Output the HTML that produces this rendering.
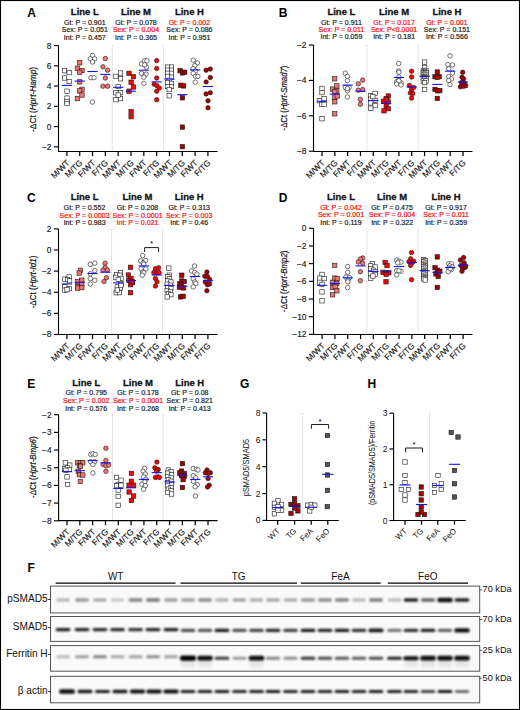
<!DOCTYPE html>
<html><head><meta charset="utf-8"><style>
html,body{margin:0;padding:0;background:#fff;}
#w{position:relative;width:520px;height:710px;overflow:hidden;background:#fff;}
svg{position:absolute;left:0;top:0;}
text{font-family:"Liberation Sans", sans-serif;}
</style></head><body><div id="w">
<svg width="520" height="710" viewBox="0 0 520 710">
<defs><filter id="bl" x="-30%" y="-100%" width="160%" height="300%"><feGaussianBlur stdDeviation="0.85"/></filter><filter id="bl2" x="-30%" y="-50%" width="160%" height="200%"><feGaussianBlur stdDeviation="1.5"/></filter></defs>
<text transform="translate(84.80,15.20) scale(0.97,1)" font-size="9.8" text-anchor="middle" font-weight="bold" fill="#111" stroke="#111" stroke-width="0.3">Line L</text>
<text transform="translate(84.80,24.90) scale(1.1,1)" font-size="6.4" text-anchor="middle" font-weight="normal" fill="#1a1a1a" stroke="#1a1a1a" stroke-width="0.18">Gt: P = 0.901</text>
<text transform="translate(84.80,32.20) scale(1.1,1)" font-size="6.4" text-anchor="middle" font-weight="normal" fill="#1a1a1a" stroke="#1a1a1a" stroke-width="0.18">Sex: P = 0.051</text>
<text transform="translate(84.80,39.50) scale(1.1,1)" font-size="6.4" text-anchor="middle" font-weight="normal" fill="#1a1a1a" stroke="#1a1a1a" stroke-width="0.18">Int: P = 0.457</text>
<text transform="translate(136.00,15.20) scale(0.97,1)" font-size="9.8" text-anchor="middle" font-weight="bold" fill="#111" stroke="#111" stroke-width="0.3">Line M</text>
<text transform="translate(136.00,24.90) scale(1.1,1)" font-size="6.4" text-anchor="middle" font-weight="normal" fill="#1a1a1a" stroke="#1a1a1a" stroke-width="0.18">Gt: P = 0.078</text>
<text transform="translate(136.00,32.20) scale(1.1,1)" font-size="6.4" text-anchor="middle" font-weight="normal" fill="#ff0a0a" stroke="#ff0a0a" stroke-width="0.18">Sex: P = 0.004</text>
<text transform="translate(136.00,39.50) scale(1.1,1)" font-size="6.4" text-anchor="middle" font-weight="normal" fill="#1a1a1a" stroke="#1a1a1a" stroke-width="0.18">Int: P = 0.365</text>
<text transform="translate(189.40,15.20) scale(0.97,1)" font-size="9.8" text-anchor="middle" font-weight="bold" fill="#111" stroke="#111" stroke-width="0.3">Line H</text>
<text transform="translate(189.40,24.90) scale(1.1,1)" font-size="6.4" text-anchor="middle" font-weight="normal" fill="#ff0a0a" stroke="#ff0a0a" stroke-width="0.18">Gt: P = 0.002</text>
<text transform="translate(189.40,32.20) scale(1.1,1)" font-size="6.4" text-anchor="middle" font-weight="normal" fill="#1a1a1a" stroke="#1a1a1a" stroke-width="0.18">Sex: P = 0.086</text>
<text transform="translate(189.40,39.50) scale(1.1,1)" font-size="6.4" text-anchor="middle" font-weight="normal" fill="#1a1a1a" stroke="#1a1a1a" stroke-width="0.18">Int: P = 0.951</text>
<text x="27.30" y="16.60" font-size="12" text-anchor="start" font-weight="bold" fill="#000" >A</text>
<line x1="112.30" y1="45.00" x2="112.30" y2="151.50" stroke="#d0d0d0" stroke-width="0.8" stroke-dasharray="2,0.7"/>
<line x1="163.40" y1="45.00" x2="163.40" y2="151.50" stroke="#d0d0d0" stroke-width="0.8" stroke-dasharray="2,0.7"/>
<line x1="58.50" y1="45.50" x2="58.50" y2="152.00" stroke="#000" stroke-width="1.1" />
<line x1="53.90" y1="45.56" x2="58.50" y2="45.56" stroke="#000" stroke-width="1.15" />
<text x="51.50" y="48.56" font-size="8.4" text-anchor="end" font-weight="normal" fill="#111" stroke="#111" stroke-width="0.12">8</text>
<line x1="53.90" y1="65.82" x2="58.50" y2="65.82" stroke="#000" stroke-width="1.15" />
<text x="51.50" y="68.82" font-size="8.4" text-anchor="end" font-weight="normal" fill="#111" stroke="#111" stroke-width="0.12">6</text>
<line x1="53.90" y1="86.08" x2="58.50" y2="86.08" stroke="#000" stroke-width="1.15" />
<text x="51.50" y="89.08" font-size="8.4" text-anchor="end" font-weight="normal" fill="#111" stroke="#111" stroke-width="0.12">4</text>
<line x1="53.90" y1="106.34" x2="58.50" y2="106.34" stroke="#000" stroke-width="1.15" />
<text x="51.50" y="109.34" font-size="8.4" text-anchor="end" font-weight="normal" fill="#111" stroke="#111" stroke-width="0.12">2</text>
<line x1="53.90" y1="126.60" x2="58.50" y2="126.60" stroke="#000" stroke-width="1.15" />
<text x="51.50" y="129.60" font-size="8.4" text-anchor="end" font-weight="normal" fill="#111" stroke="#111" stroke-width="0.12">0</text>
<line x1="53.90" y1="146.86" x2="58.50" y2="146.86" stroke="#000" stroke-width="1.15" />
<text x="51.50" y="149.86" font-size="8.4" text-anchor="end" font-weight="normal" fill="#111" stroke="#111" stroke-width="0.12">−2</text>
<line x1="57.95" y1="151.50" x2="217.60" y2="151.50" stroke="#000" stroke-width="1.1" />
<line x1="66.90" y1="151.50" x2="66.90" y2="156.10" stroke="#000" stroke-width="1.25" />
<text transform="translate(70.20,163.30) rotate(-45)" font-size="8.4" text-anchor="end" fill="#111" stroke="#111" stroke-width="0.15">M/WT</text>
<line x1="79.72" y1="151.50" x2="79.72" y2="156.10" stroke="#000" stroke-width="1.25" />
<text transform="translate(83.02,163.30) rotate(-45)" font-size="8.4" text-anchor="end" fill="#111" stroke="#111" stroke-width="0.15">M/TG</text>
<line x1="92.54" y1="151.50" x2="92.54" y2="156.10" stroke="#000" stroke-width="1.25" />
<text transform="translate(95.84,163.30) rotate(-45)" font-size="8.4" text-anchor="end" fill="#111" stroke="#111" stroke-width="0.15">F/WT</text>
<line x1="105.36" y1="151.50" x2="105.36" y2="156.10" stroke="#000" stroke-width="1.25" />
<text transform="translate(108.66,163.30) rotate(-45)" font-size="8.4" text-anchor="end" fill="#111" stroke="#111" stroke-width="0.15">F/TG</text>
<line x1="118.18" y1="151.50" x2="118.18" y2="156.10" stroke="#000" stroke-width="1.25" />
<text transform="translate(121.48,163.30) rotate(-45)" font-size="8.4" text-anchor="end" fill="#111" stroke="#111" stroke-width="0.15">M/WT</text>
<line x1="131.00" y1="151.50" x2="131.00" y2="156.10" stroke="#000" stroke-width="1.25" />
<text transform="translate(134.30,163.30) rotate(-45)" font-size="8.4" text-anchor="end" fill="#111" stroke="#111" stroke-width="0.15">M/TG</text>
<line x1="143.82" y1="151.50" x2="143.82" y2="156.10" stroke="#000" stroke-width="1.25" />
<text transform="translate(147.12,163.30) rotate(-45)" font-size="8.4" text-anchor="end" fill="#111" stroke="#111" stroke-width="0.15">F/WT</text>
<line x1="156.64" y1="151.50" x2="156.64" y2="156.10" stroke="#000" stroke-width="1.25" />
<text transform="translate(159.94,163.30) rotate(-45)" font-size="8.4" text-anchor="end" fill="#111" stroke="#111" stroke-width="0.15">F/TG</text>
<line x1="169.46" y1="151.50" x2="169.46" y2="156.10" stroke="#000" stroke-width="1.25" />
<text transform="translate(172.76,163.30) rotate(-45)" font-size="8.4" text-anchor="end" fill="#111" stroke="#111" stroke-width="0.15">M/WT</text>
<line x1="182.28" y1="151.50" x2="182.28" y2="156.10" stroke="#000" stroke-width="1.25" />
<text transform="translate(185.58,163.30) rotate(-45)" font-size="8.4" text-anchor="end" fill="#111" stroke="#111" stroke-width="0.15">M/TG</text>
<line x1="195.10" y1="151.50" x2="195.10" y2="156.10" stroke="#000" stroke-width="1.25" />
<text transform="translate(198.40,163.30) rotate(-45)" font-size="8.4" text-anchor="end" fill="#111" stroke="#111" stroke-width="0.15">F/WT</text>
<line x1="207.92" y1="151.50" x2="207.92" y2="156.10" stroke="#000" stroke-width="1.25" />
<text transform="translate(211.22,163.30) rotate(-45)" font-size="8.4" text-anchor="end" fill="#111" stroke="#111" stroke-width="0.15">F/TG</text>
<text transform="translate(35.80,99.40) rotate(-90)" font-size="8.8" text-anchor="middle" fill="#111" stroke="#111" stroke-width="0.2" textLength="65.0" lengthAdjust="spacingAndGlyphs">-ΔCt (<tspan font-style="italic">Hprt-Hamp</tspan>)</text>
<rect x="62.30" y="68.50" width="4.4" height="4.4" fill="#fff" stroke="#1a1a1a" stroke-width="0.6"/>
<rect x="67.00" y="70.40" width="4.4" height="4.4" fill="#fff" stroke="#1a1a1a" stroke-width="0.6"/>
<rect x="62.30" y="75.80" width="4.4" height="4.4" fill="#fff" stroke="#1a1a1a" stroke-width="0.6"/>
<rect x="67.00" y="79.30" width="4.4" height="4.4" fill="#fff" stroke="#1a1a1a" stroke-width="0.6"/>
<rect x="64.80" y="89.00" width="4.4" height="4.4" fill="#fff" stroke="#1a1a1a" stroke-width="0.6"/>
<rect x="64.80" y="95.90" width="4.4" height="4.4" fill="#fff" stroke="#1a1a1a" stroke-width="0.6"/>
<rect x="64.80" y="99.50" width="4.4" height="4.4" fill="#fff" stroke="#1a1a1a" stroke-width="0.6"/>
<rect x="64.80" y="101.40" width="4.4" height="4.4" fill="#fff" stroke="#1a1a1a" stroke-width="0.6"/>
<line x1="61.80" y1="85.40" x2="72.00" y2="85.40" stroke="#1010ff" stroke-width="1.1" />
<rect x="77.50" y="60.60" width="4.4" height="4.4" fill="#f47272" stroke="#1a1a1a" stroke-width="0.6"/>
<rect x="75.20" y="66.00" width="4.4" height="4.4" fill="#f47272" stroke="#1a1a1a" stroke-width="0.6"/>
<rect x="79.80" y="68.30" width="4.4" height="4.4" fill="#f47272" stroke="#1a1a1a" stroke-width="0.6"/>
<rect x="77.50" y="70.00" width="4.4" height="4.4" fill="#f47272" stroke="#1a1a1a" stroke-width="0.6"/>
<rect x="77.50" y="79.70" width="4.4" height="4.4" fill="#f47272" stroke="#1a1a1a" stroke-width="0.6"/>
<rect x="79.80" y="87.10" width="4.4" height="4.4" fill="#f47272" stroke="#1a1a1a" stroke-width="0.6"/>
<rect x="77.50" y="88.70" width="4.4" height="4.4" fill="#f47272" stroke="#1a1a1a" stroke-width="0.6"/>
<rect x="79.80" y="92.80" width="4.4" height="4.4" fill="#f47272" stroke="#1a1a1a" stroke-width="0.6"/>
<rect x="75.20" y="96.40" width="4.4" height="4.4" fill="#f47272" stroke="#1a1a1a" stroke-width="0.6"/>
<line x1="74.62" y1="81.10" x2="84.82" y2="81.10" stroke="#1010ff" stroke-width="1.1" />
<circle cx="92.50" cy="55.50" r="2.25" fill="#fff" stroke="#1a1a1a" stroke-width="0.6"/>
<circle cx="90.30" cy="58.80" r="2.25" fill="#fff" stroke="#1a1a1a" stroke-width="0.6"/>
<circle cx="94.70" cy="58.80" r="2.25" fill="#fff" stroke="#1a1a1a" stroke-width="0.6"/>
<circle cx="92.50" cy="62.00" r="2.25" fill="#fff" stroke="#1a1a1a" stroke-width="0.6"/>
<circle cx="90.90" cy="77.70" r="2.25" fill="#fff" stroke="#1a1a1a" stroke-width="0.6"/>
<circle cx="94.00" cy="77.70" r="2.25" fill="#fff" stroke="#1a1a1a" stroke-width="0.6"/>
<circle cx="92.40" cy="102.00" r="2.25" fill="#fff" stroke="#1a1a1a" stroke-width="0.6"/>
<line x1="87.44" y1="71.50" x2="97.64" y2="71.50" stroke="#1010ff" stroke-width="1.1" />
<circle cx="105.30" cy="58.60" r="2.25" fill="#f47272" stroke="#1a1a1a" stroke-width="0.6"/>
<circle cx="103.00" cy="66.80" r="2.25" fill="#f47272" stroke="#1a1a1a" stroke-width="0.6"/>
<circle cx="107.60" cy="70.20" r="2.25" fill="#f47272" stroke="#1a1a1a" stroke-width="0.6"/>
<circle cx="105.30" cy="78.00" r="2.25" fill="#f47272" stroke="#1a1a1a" stroke-width="0.6"/>
<circle cx="103.00" cy="86.20" r="2.25" fill="#f47272" stroke="#1a1a1a" stroke-width="0.6"/>
<circle cx="107.60" cy="86.20" r="2.25" fill="#f47272" stroke="#1a1a1a" stroke-width="0.6"/>
<line x1="100.26" y1="74.40" x2="110.46" y2="74.40" stroke="#1010ff" stroke-width="1.1" />
<rect x="118.30" y="70.80" width="4.4" height="4.4" fill="#fff" stroke="#1a1a1a" stroke-width="0.6"/>
<rect x="113.70" y="74.20" width="4.4" height="4.4" fill="#fff" stroke="#1a1a1a" stroke-width="0.6"/>
<rect x="118.30" y="76.60" width="4.4" height="4.4" fill="#fff" stroke="#1a1a1a" stroke-width="0.6"/>
<rect x="116.00" y="84.30" width="4.4" height="4.4" fill="#fff" stroke="#1a1a1a" stroke-width="0.6"/>
<rect x="113.70" y="90.50" width="4.4" height="4.4" fill="#fff" stroke="#1a1a1a" stroke-width="0.6"/>
<rect x="118.30" y="90.50" width="4.4" height="4.4" fill="#fff" stroke="#1a1a1a" stroke-width="0.6"/>
<rect x="113.70" y="97.50" width="4.4" height="4.4" fill="#fff" stroke="#1a1a1a" stroke-width="0.6"/>
<rect x="118.30" y="96.40" width="4.4" height="4.4" fill="#fff" stroke="#1a1a1a" stroke-width="0.6"/>
<rect x="116.00" y="92.80" width="4.4" height="4.4" fill="#fff" stroke="#1a1a1a" stroke-width="0.6"/>
<line x1="113.08" y1="87.30" x2="123.28" y2="87.30" stroke="#1010ff" stroke-width="1.1" />
<rect x="126.80" y="71.10" width="4.4" height="4.4" fill="#ff0000" stroke="#1a1a1a" stroke-width="0.6"/>
<rect x="131.20" y="74.50" width="4.4" height="4.4" fill="#ff0000" stroke="#1a1a1a" stroke-width="0.6"/>
<rect x="128.90" y="80.00" width="4.4" height="4.4" fill="#ff0000" stroke="#1a1a1a" stroke-width="0.6"/>
<rect x="131.20" y="84.80" width="4.4" height="4.4" fill="#ff0000" stroke="#1a1a1a" stroke-width="0.6"/>
<rect x="126.80" y="89.00" width="4.4" height="4.4" fill="#ff0000" stroke="#1a1a1a" stroke-width="0.6"/>
<rect x="128.90" y="109.40" width="4.4" height="4.4" fill="#ff0000" stroke="#1a1a1a" stroke-width="0.6"/>
<rect x="128.90" y="114.50" width="4.4" height="4.4" fill="#ff0000" stroke="#1a1a1a" stroke-width="0.6"/>
<line x1="125.90" y1="91.20" x2="136.10" y2="91.20" stroke="#1010ff" stroke-width="1.1" />
<circle cx="141.50" cy="64.00" r="2.25" fill="#fff" stroke="#1a1a1a" stroke-width="0.6"/>
<circle cx="144.60" cy="60.90" r="2.25" fill="#fff" stroke="#1a1a1a" stroke-width="0.6"/>
<circle cx="146.90" cy="60.90" r="2.25" fill="#fff" stroke="#1a1a1a" stroke-width="0.6"/>
<circle cx="146.40" cy="67.10" r="2.25" fill="#fff" stroke="#1a1a1a" stroke-width="0.6"/>
<circle cx="141.50" cy="73.30" r="2.25" fill="#fff" stroke="#1a1a1a" stroke-width="0.6"/>
<circle cx="146.10" cy="74.10" r="2.25" fill="#fff" stroke="#1a1a1a" stroke-width="0.6"/>
<circle cx="143.80" cy="77.20" r="2.25" fill="#fff" stroke="#1a1a1a" stroke-width="0.6"/>
<circle cx="143.80" cy="83.40" r="2.25" fill="#fff" stroke="#1a1a1a" stroke-width="0.6"/>
<circle cx="144.60" cy="64.80" r="2.25" fill="#fff" stroke="#1a1a1a" stroke-width="0.6"/>
<line x1="138.72" y1="70.20" x2="148.92" y2="70.20" stroke="#1010ff" stroke-width="1.1" />
<circle cx="156.70" cy="60.60" r="2.25" fill="#ff0000" stroke="#1a1a1a" stroke-width="0.6"/>
<circle cx="156.70" cy="68.40" r="2.25" fill="#ff0000" stroke="#1a1a1a" stroke-width="0.6"/>
<circle cx="156.70" cy="78.00" r="2.25" fill="#ff0000" stroke="#1a1a1a" stroke-width="0.6"/>
<circle cx="154.20" cy="84.20" r="2.25" fill="#ff0000" stroke="#1a1a1a" stroke-width="0.6"/>
<circle cx="157.00" cy="85.70" r="2.25" fill="#ff0000" stroke="#1a1a1a" stroke-width="0.6"/>
<circle cx="159.30" cy="88.00" r="2.25" fill="#ff0000" stroke="#1a1a1a" stroke-width="0.6"/>
<circle cx="156.70" cy="91.20" r="2.25" fill="#ff0000" stroke="#1a1a1a" stroke-width="0.6"/>
<circle cx="156.70" cy="99.70" r="2.25" fill="#ff0000" stroke="#1a1a1a" stroke-width="0.6"/>
<line x1="151.54" y1="81.90" x2="161.74" y2="81.90" stroke="#1010ff" stroke-width="1.1" />
<rect x="165.50" y="64.90" width="4.4" height="4.4" fill="#fff" stroke="#1a1a1a" stroke-width="0.6"/>
<rect x="169.30" y="64.90" width="4.4" height="4.4" fill="#fff" stroke="#1a1a1a" stroke-width="0.6"/>
<rect x="165.50" y="68.00" width="4.4" height="4.4" fill="#fff" stroke="#1a1a1a" stroke-width="0.6"/>
<rect x="169.30" y="68.00" width="4.4" height="4.4" fill="#fff" stroke="#1a1a1a" stroke-width="0.6"/>
<rect x="165.50" y="71.10" width="4.4" height="4.4" fill="#fff" stroke="#1a1a1a" stroke-width="0.6"/>
<rect x="169.30" y="71.10" width="4.4" height="4.4" fill="#fff" stroke="#1a1a1a" stroke-width="0.6"/>
<rect x="165.50" y="74.20" width="4.4" height="4.4" fill="#fff" stroke="#1a1a1a" stroke-width="0.6"/>
<rect x="169.30" y="75.00" width="4.4" height="4.4" fill="#fff" stroke="#1a1a1a" stroke-width="0.6"/>
<rect x="167.00" y="78.10" width="4.4" height="4.4" fill="#fff" stroke="#1a1a1a" stroke-width="0.6"/>
<rect x="165.50" y="80.40" width="4.4" height="4.4" fill="#fff" stroke="#1a1a1a" stroke-width="0.6"/>
<rect x="169.30" y="81.20" width="4.4" height="4.4" fill="#fff" stroke="#1a1a1a" stroke-width="0.6"/>
<rect x="165.50" y="84.30" width="4.4" height="4.4" fill="#fff" stroke="#1a1a1a" stroke-width="0.6"/>
<rect x="169.30" y="84.30" width="4.4" height="4.4" fill="#fff" stroke="#1a1a1a" stroke-width="0.6"/>
<rect x="167.00" y="87.40" width="4.4" height="4.4" fill="#fff" stroke="#1a1a1a" stroke-width="0.6"/>
<rect x="167.00" y="93.60" width="4.4" height="4.4" fill="#fff" stroke="#1a1a1a" stroke-width="0.6"/>
<line x1="164.36" y1="79.10" x2="174.56" y2="79.10" stroke="#1010ff" stroke-width="1.1" />
<rect x="177.90" y="68.50" width="4.4" height="4.4" fill="#a60000" stroke="#1a1a1a" stroke-width="0.6"/>
<rect x="180.20" y="70.70" width="4.4" height="4.4" fill="#a60000" stroke="#1a1a1a" stroke-width="0.6"/>
<rect x="182.50" y="70.00" width="4.4" height="4.4" fill="#a60000" stroke="#1a1a1a" stroke-width="0.6"/>
<rect x="178.60" y="83.10" width="4.4" height="4.4" fill="#a60000" stroke="#1a1a1a" stroke-width="0.6"/>
<rect x="181.40" y="83.70" width="4.4" height="4.4" fill="#a60000" stroke="#1a1a1a" stroke-width="0.6"/>
<rect x="180.20" y="95.60" width="4.4" height="4.4" fill="#a60000" stroke="#1a1a1a" stroke-width="0.6"/>
<rect x="180.20" y="124.90" width="4.4" height="4.4" fill="#a60000" stroke="#1a1a1a" stroke-width="0.6"/>
<rect x="180.20" y="144.50" width="4.4" height="4.4" fill="#a60000" stroke="#1a1a1a" stroke-width="0.6"/>
<line x1="177.18" y1="94.70" x2="187.38" y2="94.70" stroke="#1010ff" stroke-width="1.1" />
<circle cx="193.20" cy="60.20" r="2.25" fill="#fff" stroke="#1a1a1a" stroke-width="0.6"/>
<circle cx="197.40" cy="62.90" r="2.25" fill="#fff" stroke="#1a1a1a" stroke-width="0.6"/>
<circle cx="194.80" cy="65.60" r="2.25" fill="#fff" stroke="#1a1a1a" stroke-width="0.6"/>
<circle cx="193.20" cy="68.70" r="2.25" fill="#fff" stroke="#1a1a1a" stroke-width="0.6"/>
<circle cx="195.60" cy="71.00" r="2.25" fill="#fff" stroke="#1a1a1a" stroke-width="0.6"/>
<circle cx="193.20" cy="73.30" r="2.25" fill="#fff" stroke="#1a1a1a" stroke-width="0.6"/>
<circle cx="195.60" cy="76.40" r="2.25" fill="#fff" stroke="#1a1a1a" stroke-width="0.6"/>
<circle cx="197.90" cy="76.40" r="2.25" fill="#fff" stroke="#1a1a1a" stroke-width="0.6"/>
<circle cx="195.20" cy="82.20" r="2.25" fill="#fff" stroke="#1a1a1a" stroke-width="0.6"/>
<line x1="190.00" y1="69.90" x2="200.20" y2="69.90" stroke="#1010ff" stroke-width="1.1" />
<circle cx="206.10" cy="70.20" r="2.25" fill="#a60000" stroke="#1a1a1a" stroke-width="0.6"/>
<circle cx="210.30" cy="69.10" r="2.25" fill="#a60000" stroke="#1a1a1a" stroke-width="0.6"/>
<circle cx="210.30" cy="77.50" r="2.25" fill="#a60000" stroke="#1a1a1a" stroke-width="0.6"/>
<circle cx="206.10" cy="81.90" r="2.25" fill="#a60000" stroke="#1a1a1a" stroke-width="0.6"/>
<circle cx="206.10" cy="94.00" r="2.25" fill="#a60000" stroke="#1a1a1a" stroke-width="0.6"/>
<circle cx="210.30" cy="92.70" r="2.25" fill="#a60000" stroke="#1a1a1a" stroke-width="0.6"/>
<circle cx="208.00" cy="100.80" r="2.25" fill="#a60000" stroke="#1a1a1a" stroke-width="0.6"/>
<circle cx="208.00" cy="107.80" r="2.25" fill="#a60000" stroke="#1a1a1a" stroke-width="0.6"/>
<line x1="202.82" y1="86.50" x2="213.02" y2="86.50" stroke="#1010ff" stroke-width="1.1" />
<text transform="translate(341.40,15.00) scale(0.97,1)" font-size="9.8" text-anchor="middle" font-weight="bold" fill="#111" stroke="#111" stroke-width="0.3">Line L</text>
<text transform="translate(341.40,24.70) scale(1.1,1)" font-size="6.4" text-anchor="middle" font-weight="normal" fill="#1a1a1a" stroke="#1a1a1a" stroke-width="0.18">Gt: P = 0.911</text>
<text transform="translate(341.40,32.00) scale(1.1,1)" font-size="6.4" text-anchor="middle" font-weight="normal" fill="#ff0a0a" stroke="#ff0a0a" stroke-width="0.18">Sex: P = 0.011</text>
<text transform="translate(341.40,39.30) scale(1.1,1)" font-size="6.4" text-anchor="middle" font-weight="normal" fill="#1a1a1a" stroke="#1a1a1a" stroke-width="0.18">Int: P = 0.059</text>
<text transform="translate(394.10,15.00) scale(0.97,1)" font-size="9.8" text-anchor="middle" font-weight="bold" fill="#111" stroke="#111" stroke-width="0.3">Line M</text>
<text transform="translate(394.10,24.70) scale(1.1,1)" font-size="6.4" text-anchor="middle" font-weight="normal" fill="#ff0a0a" stroke="#ff0a0a" stroke-width="0.18">Gt: P = 0.017</text>
<text transform="translate(394.10,32.00) scale(1.1,1)" font-size="6.4" text-anchor="middle" font-weight="normal" fill="#ff0a0a" stroke="#ff0a0a" stroke-width="0.18">Sex: P&lt;0.0001</text>
<text transform="translate(394.10,39.30) scale(1.1,1)" font-size="6.4" text-anchor="middle" font-weight="normal" fill="#1a1a1a" stroke="#1a1a1a" stroke-width="0.18">Int: P = 0.181</text>
<text transform="translate(446.90,15.00) scale(0.97,1)" font-size="9.8" text-anchor="middle" font-weight="bold" fill="#111" stroke="#111" stroke-width="0.3">Line H</text>
<text transform="translate(446.90,24.70) scale(1.1,1)" font-size="6.4" text-anchor="middle" font-weight="normal" fill="#ff0a0a" stroke="#ff0a0a" stroke-width="0.18">Gt: P = 0.001</text>
<text transform="translate(446.90,32.00) scale(1.1,1)" font-size="6.4" text-anchor="middle" font-weight="normal" fill="#1a1a1a" stroke="#1a1a1a" stroke-width="0.18">Sex: P = 0.151</text>
<text transform="translate(446.90,39.30) scale(1.1,1)" font-size="6.4" text-anchor="middle" font-weight="normal" fill="#1a1a1a" stroke="#1a1a1a" stroke-width="0.18">Int: P = 0.566</text>
<text x="278.70" y="16.60" font-size="12" text-anchor="start" font-weight="bold" fill="#000" >B</text>
<line x1="366.90" y1="45.00" x2="366.90" y2="151.50" stroke="#d0d0d0" stroke-width="0.8" stroke-dasharray="2,0.7"/>
<line x1="418.20" y1="45.00" x2="418.20" y2="151.50" stroke="#d0d0d0" stroke-width="0.8" stroke-dasharray="2,0.7"/>
<line x1="313.50" y1="45.00" x2="313.50" y2="152.00" stroke="#000" stroke-width="1.1" />
<line x1="308.90" y1="45.00" x2="313.50" y2="45.00" stroke="#000" stroke-width="1.15" />
<text x="306.50" y="48.00" font-size="8.4" text-anchor="end" font-weight="normal" fill="#111" stroke="#111" stroke-width="0.12">−2</text>
<line x1="308.90" y1="80.40" x2="313.50" y2="80.40" stroke="#000" stroke-width="1.15" />
<text x="306.50" y="83.40" font-size="8.4" text-anchor="end" font-weight="normal" fill="#111" stroke="#111" stroke-width="0.12">−4</text>
<line x1="308.90" y1="115.80" x2="313.50" y2="115.80" stroke="#000" stroke-width="1.15" />
<text x="306.50" y="118.80" font-size="8.4" text-anchor="end" font-weight="normal" fill="#111" stroke="#111" stroke-width="0.12">−6</text>
<line x1="308.90" y1="151.20" x2="313.50" y2="151.20" stroke="#000" stroke-width="1.15" />
<text x="306.50" y="154.20" font-size="8.4" text-anchor="end" font-weight="normal" fill="#111" stroke="#111" stroke-width="0.12">−8</text>
<line x1="312.95" y1="151.50" x2="472.50" y2="151.50" stroke="#000" stroke-width="1.1" />
<line x1="322.00" y1="151.50" x2="322.00" y2="156.10" stroke="#000" stroke-width="1.25" />
<text transform="translate(325.30,163.30) rotate(-45)" font-size="8.4" text-anchor="end" fill="#111" stroke="#111" stroke-width="0.15">M/WT</text>
<line x1="334.82" y1="151.50" x2="334.82" y2="156.10" stroke="#000" stroke-width="1.25" />
<text transform="translate(338.12,163.30) rotate(-45)" font-size="8.4" text-anchor="end" fill="#111" stroke="#111" stroke-width="0.15">M/TG</text>
<line x1="347.64" y1="151.50" x2="347.64" y2="156.10" stroke="#000" stroke-width="1.25" />
<text transform="translate(350.94,163.30) rotate(-45)" font-size="8.4" text-anchor="end" fill="#111" stroke="#111" stroke-width="0.15">F/WT</text>
<line x1="360.46" y1="151.50" x2="360.46" y2="156.10" stroke="#000" stroke-width="1.25" />
<text transform="translate(363.76,163.30) rotate(-45)" font-size="8.4" text-anchor="end" fill="#111" stroke="#111" stroke-width="0.15">F/TG</text>
<line x1="373.28" y1="151.50" x2="373.28" y2="156.10" stroke="#000" stroke-width="1.25" />
<text transform="translate(376.58,163.30) rotate(-45)" font-size="8.4" text-anchor="end" fill="#111" stroke="#111" stroke-width="0.15">M/WT</text>
<line x1="386.10" y1="151.50" x2="386.10" y2="156.10" stroke="#000" stroke-width="1.25" />
<text transform="translate(389.40,163.30) rotate(-45)" font-size="8.4" text-anchor="end" fill="#111" stroke="#111" stroke-width="0.15">M/TG</text>
<line x1="398.92" y1="151.50" x2="398.92" y2="156.10" stroke="#000" stroke-width="1.25" />
<text transform="translate(402.22,163.30) rotate(-45)" font-size="8.4" text-anchor="end" fill="#111" stroke="#111" stroke-width="0.15">F/WT</text>
<line x1="411.74" y1="151.50" x2="411.74" y2="156.10" stroke="#000" stroke-width="1.25" />
<text transform="translate(415.04,163.30) rotate(-45)" font-size="8.4" text-anchor="end" fill="#111" stroke="#111" stroke-width="0.15">F/TG</text>
<line x1="424.56" y1="151.50" x2="424.56" y2="156.10" stroke="#000" stroke-width="1.25" />
<text transform="translate(427.86,163.30) rotate(-45)" font-size="8.4" text-anchor="end" fill="#111" stroke="#111" stroke-width="0.15">M/WT</text>
<line x1="437.38" y1="151.50" x2="437.38" y2="156.10" stroke="#000" stroke-width="1.25" />
<text transform="translate(440.68,163.30) rotate(-45)" font-size="8.4" text-anchor="end" fill="#111" stroke="#111" stroke-width="0.15">M/TG</text>
<line x1="450.20" y1="151.50" x2="450.20" y2="156.10" stroke="#000" stroke-width="1.25" />
<text transform="translate(453.50,163.30) rotate(-45)" font-size="8.4" text-anchor="end" fill="#111" stroke="#111" stroke-width="0.15">F/WT</text>
<line x1="463.02" y1="151.50" x2="463.02" y2="156.10" stroke="#000" stroke-width="1.25" />
<text transform="translate(466.32,163.30) rotate(-45)" font-size="8.4" text-anchor="end" fill="#111" stroke="#111" stroke-width="0.15">F/TG</text>
<text transform="translate(286.80,98.00) rotate(-90)" font-size="8.8" text-anchor="middle" fill="#111" stroke="#111" stroke-width="0.2" textLength="64.9" lengthAdjust="spacingAndGlyphs">-ΔCt (<tspan font-style="italic">Hprt-Smad7</tspan>)</text>
<rect x="319.80" y="86.20" width="4.4" height="4.4" fill="#fff" stroke="#1a1a1a" stroke-width="0.6"/>
<rect x="319.80" y="90.40" width="4.4" height="4.4" fill="#fff" stroke="#1a1a1a" stroke-width="0.6"/>
<rect x="321.90" y="96.40" width="4.4" height="4.4" fill="#fff" stroke="#1a1a1a" stroke-width="0.6"/>
<rect x="317.10" y="98.50" width="4.4" height="4.4" fill="#fff" stroke="#1a1a1a" stroke-width="0.6"/>
<rect x="319.30" y="102.20" width="4.4" height="4.4" fill="#fff" stroke="#1a1a1a" stroke-width="0.6"/>
<rect x="321.90" y="102.20" width="4.4" height="4.4" fill="#fff" stroke="#1a1a1a" stroke-width="0.6"/>
<rect x="319.80" y="116.50" width="4.4" height="4.4" fill="#fff" stroke="#1a1a1a" stroke-width="0.6"/>
<line x1="316.90" y1="101.30" x2="327.10" y2="101.30" stroke="#1010ff" stroke-width="1.1" />
<rect x="332.50" y="76.60" width="4.4" height="4.4" fill="#f47272" stroke="#1a1a1a" stroke-width="0.6"/>
<rect x="334.60" y="83.70" width="4.4" height="4.4" fill="#f47272" stroke="#1a1a1a" stroke-width="0.6"/>
<rect x="330.40" y="86.90" width="4.4" height="4.4" fill="#f47272" stroke="#1a1a1a" stroke-width="0.6"/>
<rect x="334.60" y="88.50" width="4.4" height="4.4" fill="#f47272" stroke="#1a1a1a" stroke-width="0.6"/>
<rect x="332.50" y="89.50" width="4.4" height="4.4" fill="#f47272" stroke="#1a1a1a" stroke-width="0.6"/>
<rect x="332.50" y="94.80" width="4.4" height="4.4" fill="#f47272" stroke="#1a1a1a" stroke-width="0.6"/>
<rect x="335.10" y="93.80" width="4.4" height="4.4" fill="#f47272" stroke="#1a1a1a" stroke-width="0.6"/>
<rect x="332.50" y="99.60" width="4.4" height="4.4" fill="#f47272" stroke="#1a1a1a" stroke-width="0.6"/>
<rect x="332.50" y="111.60" width="4.4" height="4.4" fill="#f47272" stroke="#1a1a1a" stroke-width="0.6"/>
<line x1="329.72" y1="94.10" x2="339.92" y2="94.10" stroke="#1010ff" stroke-width="1.1" />
<circle cx="345.30" cy="73.20" r="2.25" fill="#fff" stroke="#1a1a1a" stroke-width="0.6"/>
<circle cx="347.40" cy="76.40" r="2.25" fill="#fff" stroke="#1a1a1a" stroke-width="0.6"/>
<circle cx="347.40" cy="80.60" r="2.25" fill="#fff" stroke="#1a1a1a" stroke-width="0.6"/>
<circle cx="345.30" cy="87.50" r="2.25" fill="#fff" stroke="#1a1a1a" stroke-width="0.6"/>
<circle cx="349.00" cy="87.50" r="2.25" fill="#fff" stroke="#1a1a1a" stroke-width="0.6"/>
<circle cx="347.40" cy="90.70" r="2.25" fill="#fff" stroke="#1a1a1a" stroke-width="0.6"/>
<circle cx="347.40" cy="97.00" r="2.25" fill="#fff" stroke="#1a1a1a" stroke-width="0.6"/>
<circle cx="347.40" cy="88.60" r="2.25" fill="#fff" stroke="#1a1a1a" stroke-width="0.6"/>
<line x1="342.54" y1="85.10" x2="352.74" y2="85.10" stroke="#1010ff" stroke-width="1.1" />
<circle cx="362.70" cy="80.10" r="2.25" fill="#f47272" stroke="#1a1a1a" stroke-width="0.6"/>
<circle cx="358.30" cy="83.80" r="2.25" fill="#f47272" stroke="#1a1a1a" stroke-width="0.6"/>
<circle cx="358.30" cy="90.20" r="2.25" fill="#f47272" stroke="#1a1a1a" stroke-width="0.6"/>
<circle cx="362.70" cy="89.60" r="2.25" fill="#f47272" stroke="#1a1a1a" stroke-width="0.6"/>
<circle cx="360.40" cy="99.40" r="2.25" fill="#f47272" stroke="#1a1a1a" stroke-width="0.6"/>
<circle cx="360.40" cy="104.20" r="2.25" fill="#f47272" stroke="#1a1a1a" stroke-width="0.6"/>
<line x1="355.36" y1="91.20" x2="365.56" y2="91.20" stroke="#1010ff" stroke-width="1.1" />
<rect x="368.60" y="93.30" width="4.4" height="4.4" fill="#fff" stroke="#1a1a1a" stroke-width="0.6"/>
<rect x="372.90" y="91.20" width="4.4" height="4.4" fill="#fff" stroke="#1a1a1a" stroke-width="0.6"/>
<rect x="368.60" y="97.00" width="4.4" height="4.4" fill="#fff" stroke="#1a1a1a" stroke-width="0.6"/>
<rect x="372.90" y="98.10" width="4.4" height="4.4" fill="#fff" stroke="#1a1a1a" stroke-width="0.6"/>
<rect x="368.60" y="100.70" width="4.4" height="4.4" fill="#fff" stroke="#1a1a1a" stroke-width="0.6"/>
<rect x="372.90" y="103.40" width="4.4" height="4.4" fill="#fff" stroke="#1a1a1a" stroke-width="0.6"/>
<rect x="368.60" y="106.00" width="4.4" height="4.4" fill="#fff" stroke="#1a1a1a" stroke-width="0.6"/>
<rect x="370.70" y="94.40" width="4.4" height="4.4" fill="#fff" stroke="#1a1a1a" stroke-width="0.6"/>
<line x1="368.18" y1="100.60" x2="378.38" y2="100.60" stroke="#1010ff" stroke-width="1.1" />
<rect x="386.10" y="93.80" width="4.4" height="4.4" fill="#ff0000" stroke="#1a1a1a" stroke-width="0.6"/>
<rect x="384.00" y="96.50" width="4.4" height="4.4" fill="#ff0000" stroke="#1a1a1a" stroke-width="0.6"/>
<rect x="381.30" y="99.10" width="4.4" height="4.4" fill="#ff0000" stroke="#1a1a1a" stroke-width="0.6"/>
<rect x="386.10" y="99.70" width="4.4" height="4.4" fill="#ff0000" stroke="#1a1a1a" stroke-width="0.6"/>
<rect x="384.00" y="103.90" width="4.4" height="4.4" fill="#ff0000" stroke="#1a1a1a" stroke-width="0.6"/>
<rect x="386.10" y="106.50" width="4.4" height="4.4" fill="#ff0000" stroke="#1a1a1a" stroke-width="0.6"/>
<rect x="381.80" y="108.60" width="4.4" height="4.4" fill="#ff0000" stroke="#1a1a1a" stroke-width="0.6"/>
<rect x="384.00" y="97.50" width="4.4" height="4.4" fill="#ff0000" stroke="#1a1a1a" stroke-width="0.6"/>
<line x1="381.00" y1="103.40" x2="391.20" y2="103.40" stroke="#1010ff" stroke-width="1.1" />
<circle cx="398.70" cy="63.50" r="2.25" fill="#fff" stroke="#1a1a1a" stroke-width="0.6"/>
<circle cx="398.70" cy="71.00" r="2.25" fill="#fff" stroke="#1a1a1a" stroke-width="0.6"/>
<circle cx="398.90" cy="72.20" r="2.25" fill="#fff" stroke="#1a1a1a" stroke-width="0.6"/>
<circle cx="398.90" cy="77.00" r="2.25" fill="#fff" stroke="#1a1a1a" stroke-width="0.6"/>
<circle cx="396.70" cy="81.70" r="2.25" fill="#fff" stroke="#1a1a1a" stroke-width="0.6"/>
<circle cx="398.90" cy="81.70" r="2.25" fill="#fff" stroke="#1a1a1a" stroke-width="0.6"/>
<circle cx="401.00" cy="82.80" r="2.25" fill="#fff" stroke="#1a1a1a" stroke-width="0.6"/>
<circle cx="396.70" cy="83.90" r="2.25" fill="#fff" stroke="#1a1a1a" stroke-width="0.6"/>
<circle cx="401.00" cy="84.90" r="2.25" fill="#fff" stroke="#1a1a1a" stroke-width="0.6"/>
<circle cx="398.90" cy="80.70" r="2.25" fill="#fff" stroke="#1a1a1a" stroke-width="0.6"/>
<line x1="393.82" y1="77.50" x2="404.02" y2="77.50" stroke="#1010ff" stroke-width="1.1" />
<circle cx="411.60" cy="71.20" r="2.25" fill="#ff0000" stroke="#1a1a1a" stroke-width="0.6"/>
<circle cx="411.60" cy="77.00" r="2.25" fill="#ff0000" stroke="#1a1a1a" stroke-width="0.6"/>
<circle cx="409.40" cy="85.40" r="2.25" fill="#ff0000" stroke="#1a1a1a" stroke-width="0.6"/>
<circle cx="411.60" cy="89.20" r="2.25" fill="#ff0000" stroke="#1a1a1a" stroke-width="0.6"/>
<circle cx="413.70" cy="87.60" r="2.25" fill="#ff0000" stroke="#1a1a1a" stroke-width="0.6"/>
<circle cx="410.30" cy="92.90" r="2.25" fill="#ff0000" stroke="#1a1a1a" stroke-width="0.6"/>
<circle cx="412.80" cy="93.60" r="2.25" fill="#ff0000" stroke="#1a1a1a" stroke-width="0.6"/>
<circle cx="411.60" cy="98.10" r="2.25" fill="#ff0000" stroke="#1a1a1a" stroke-width="0.6"/>
<line x1="406.64" y1="87.00" x2="416.84" y2="87.00" stroke="#1010ff" stroke-width="1.1" />
<rect x="422.40" y="59.90" width="4.4" height="4.4" fill="#fff" stroke="#1a1a1a" stroke-width="0.6"/>
<rect x="422.40" y="65.20" width="4.4" height="4.4" fill="#fff" stroke="#1a1a1a" stroke-width="0.6"/>
<rect x="421.10" y="68.20" width="4.4" height="4.4" fill="#fff" stroke="#1a1a1a" stroke-width="0.6"/>
<rect x="423.80" y="68.20" width="4.4" height="4.4" fill="#fff" stroke="#1a1a1a" stroke-width="0.6"/>
<rect x="422.40" y="69.30" width="4.4" height="4.4" fill="#fff" stroke="#1a1a1a" stroke-width="0.6"/>
<rect x="421.10" y="70.50" width="4.4" height="4.4" fill="#fff" stroke="#1a1a1a" stroke-width="0.6"/>
<rect x="423.80" y="70.50" width="4.4" height="4.4" fill="#fff" stroke="#1a1a1a" stroke-width="0.6"/>
<rect x="422.40" y="71.80" width="4.4" height="4.4" fill="#fff" stroke="#1a1a1a" stroke-width="0.6"/>
<rect x="421.10" y="73.00" width="4.4" height="4.4" fill="#fff" stroke="#1a1a1a" stroke-width="0.6"/>
<rect x="423.80" y="73.00" width="4.4" height="4.4" fill="#fff" stroke="#1a1a1a" stroke-width="0.6"/>
<rect x="422.40" y="74.30" width="4.4" height="4.4" fill="#fff" stroke="#1a1a1a" stroke-width="0.6"/>
<rect x="421.10" y="75.60" width="4.4" height="4.4" fill="#fff" stroke="#1a1a1a" stroke-width="0.6"/>
<rect x="423.80" y="75.60" width="4.4" height="4.4" fill="#fff" stroke="#1a1a1a" stroke-width="0.6"/>
<rect x="422.40" y="77.10" width="4.4" height="4.4" fill="#fff" stroke="#1a1a1a" stroke-width="0.6"/>
<rect x="421.10" y="78.80" width="4.4" height="4.4" fill="#fff" stroke="#1a1a1a" stroke-width="0.6"/>
<rect x="423.80" y="78.80" width="4.4" height="4.4" fill="#fff" stroke="#1a1a1a" stroke-width="0.6"/>
<rect x="422.40" y="80.40" width="4.4" height="4.4" fill="#fff" stroke="#1a1a1a" stroke-width="0.6"/>
<rect x="422.40" y="87.20" width="4.4" height="4.4" fill="#fff" stroke="#1a1a1a" stroke-width="0.6"/>
<line x1="419.46" y1="76.40" x2="429.66" y2="76.40" stroke="#1010ff" stroke-width="1.1" />
<rect x="435.10" y="69.80" width="4.4" height="4.4" fill="#a60000" stroke="#1a1a1a" stroke-width="0.6"/>
<rect x="432.80" y="74.50" width="4.4" height="4.4" fill="#a60000" stroke="#1a1a1a" stroke-width="0.6"/>
<rect x="437.00" y="74.50" width="4.4" height="4.4" fill="#a60000" stroke="#1a1a1a" stroke-width="0.6"/>
<rect x="435.10" y="75.10" width="4.4" height="4.4" fill="#a60000" stroke="#1a1a1a" stroke-width="0.6"/>
<rect x="432.80" y="87.20" width="4.4" height="4.4" fill="#a60000" stroke="#1a1a1a" stroke-width="0.6"/>
<rect x="435.40" y="88.50" width="4.4" height="4.4" fill="#a60000" stroke="#1a1a1a" stroke-width="0.6"/>
<rect x="437.60" y="88.50" width="4.4" height="4.4" fill="#a60000" stroke="#1a1a1a" stroke-width="0.6"/>
<rect x="435.10" y="96.20" width="4.4" height="4.4" fill="#a60000" stroke="#1a1a1a" stroke-width="0.6"/>
<line x1="432.28" y1="84.40" x2="442.48" y2="84.40" stroke="#1010ff" stroke-width="1.1" />
<circle cx="450.00" cy="55.80" r="2.25" fill="#fff" stroke="#1a1a1a" stroke-width="0.6"/>
<circle cx="447.90" cy="64.60" r="2.25" fill="#fff" stroke="#1a1a1a" stroke-width="0.6"/>
<circle cx="452.40" cy="64.90" r="2.25" fill="#fff" stroke="#1a1a1a" stroke-width="0.6"/>
<circle cx="448.70" cy="68.80" r="2.25" fill="#fff" stroke="#1a1a1a" stroke-width="0.6"/>
<circle cx="452.40" cy="73.00" r="2.25" fill="#fff" stroke="#1a1a1a" stroke-width="0.6"/>
<circle cx="448.70" cy="76.70" r="2.25" fill="#fff" stroke="#1a1a1a" stroke-width="0.6"/>
<circle cx="451.40" cy="78.90" r="2.25" fill="#fff" stroke="#1a1a1a" stroke-width="0.6"/>
<circle cx="448.70" cy="80.40" r="2.25" fill="#fff" stroke="#1a1a1a" stroke-width="0.6"/>
<circle cx="450.00" cy="84.70" r="2.25" fill="#fff" stroke="#1a1a1a" stroke-width="0.6"/>
<line x1="445.10" y1="71.20" x2="455.30" y2="71.20" stroke="#1010ff" stroke-width="1.1" />
<circle cx="462.70" cy="72.30" r="2.25" fill="#a60000" stroke="#1a1a1a" stroke-width="0.6"/>
<circle cx="462.00" cy="77.30" r="2.25" fill="#a60000" stroke="#1a1a1a" stroke-width="0.6"/>
<circle cx="463.60" cy="78.90" r="2.25" fill="#a60000" stroke="#1a1a1a" stroke-width="0.6"/>
<circle cx="461.40" cy="82.60" r="2.25" fill="#a60000" stroke="#1a1a1a" stroke-width="0.6"/>
<circle cx="464.60" cy="83.60" r="2.25" fill="#a60000" stroke="#1a1a1a" stroke-width="0.6"/>
<circle cx="460.40" cy="86.80" r="2.25" fill="#a60000" stroke="#1a1a1a" stroke-width="0.6"/>
<circle cx="463.60" cy="86.30" r="2.25" fill="#a60000" stroke="#1a1a1a" stroke-width="0.6"/>
<circle cx="465.70" cy="85.70" r="2.25" fill="#a60000" stroke="#1a1a1a" stroke-width="0.6"/>
<line x1="457.92" y1="82.00" x2="468.12" y2="82.00" stroke="#1010ff" stroke-width="1.1" />
<text transform="translate(84.60,200.00) scale(0.97,1)" font-size="9.8" text-anchor="middle" font-weight="bold" fill="#111" stroke="#111" stroke-width="0.3">Line L</text>
<text transform="translate(84.60,209.90) scale(1.1,1)" font-size="6.4" text-anchor="middle" font-weight="normal" fill="#1a1a1a" stroke="#1a1a1a" stroke-width="0.18">Gt: P = 0.552</text>
<text transform="translate(84.60,217.50) scale(1.1,1)" font-size="6.4" text-anchor="middle" font-weight="normal" fill="#ff0a0a" stroke="#ff0a0a" stroke-width="0.18">Sex: P = 0.0003</text>
<text transform="translate(84.60,225.10) scale(1.1,1)" font-size="6.4" text-anchor="middle" font-weight="normal" fill="#1a1a1a" stroke="#1a1a1a" stroke-width="0.18">Int: P = 0.983</text>
<text transform="translate(137.50,200.00) scale(0.97,1)" font-size="9.8" text-anchor="middle" font-weight="bold" fill="#111" stroke="#111" stroke-width="0.3">Line M</text>
<text transform="translate(137.50,209.90) scale(1.1,1)" font-size="6.4" text-anchor="middle" font-weight="normal" fill="#1a1a1a" stroke="#1a1a1a" stroke-width="0.18">Gt: P = 0.208</text>
<text transform="translate(137.50,217.50) scale(1.1,1)" font-size="6.4" text-anchor="middle" font-weight="normal" fill="#ff0a0a" stroke="#ff0a0a" stroke-width="0.18">Sex: P = 0.0001</text>
<text transform="translate(137.50,225.10) scale(1.1,1)" font-size="6.4" text-anchor="middle" font-weight="normal" fill="#ff0a0a" stroke="#ff0a0a" stroke-width="0.18">Int: P = 0.021</text>
<text transform="translate(189.20,200.00) scale(0.97,1)" font-size="9.8" text-anchor="middle" font-weight="bold" fill="#111" stroke="#111" stroke-width="0.3">Line H</text>
<text transform="translate(189.20,209.90) scale(1.1,1)" font-size="6.4" text-anchor="middle" font-weight="normal" fill="#1a1a1a" stroke="#1a1a1a" stroke-width="0.18">Gt: P = 0.313</text>
<text transform="translate(189.20,217.50) scale(1.1,1)" font-size="6.4" text-anchor="middle" font-weight="normal" fill="#ff0a0a" stroke="#ff0a0a" stroke-width="0.18">Sex: P = 0.003</text>
<text transform="translate(189.20,225.10) scale(1.1,1)" font-size="6.4" text-anchor="middle" font-weight="normal" fill="#1a1a1a" stroke="#1a1a1a" stroke-width="0.18">Int: P = 0.46</text>
<text x="27.00" y="201.60" font-size="12" text-anchor="start" font-weight="bold" fill="#000" >C</text>
<line x1="111.60" y1="228.50" x2="111.60" y2="334.50" stroke="#d0d0d0" stroke-width="0.8" stroke-dasharray="2,0.7"/>
<line x1="162.60" y1="228.50" x2="162.60" y2="334.50" stroke="#d0d0d0" stroke-width="0.8" stroke-dasharray="2,0.7"/>
<line x1="58.50" y1="228.90" x2="58.50" y2="335.00" stroke="#000" stroke-width="1.1" />
<line x1="53.90" y1="228.88" x2="58.50" y2="228.88" stroke="#000" stroke-width="1.15" />
<text x="51.50" y="231.88" font-size="8.4" text-anchor="end" font-weight="normal" fill="#111" stroke="#111" stroke-width="0.12">2</text>
<line x1="53.90" y1="250.00" x2="58.50" y2="250.00" stroke="#000" stroke-width="1.15" />
<text x="51.50" y="253.00" font-size="8.4" text-anchor="end" font-weight="normal" fill="#111" stroke="#111" stroke-width="0.12">0</text>
<line x1="53.90" y1="271.12" x2="58.50" y2="271.12" stroke="#000" stroke-width="1.15" />
<text x="51.50" y="274.12" font-size="8.4" text-anchor="end" font-weight="normal" fill="#111" stroke="#111" stroke-width="0.12">−2</text>
<line x1="53.90" y1="292.24" x2="58.50" y2="292.24" stroke="#000" stroke-width="1.15" />
<text x="51.50" y="295.24" font-size="8.4" text-anchor="end" font-weight="normal" fill="#111" stroke="#111" stroke-width="0.12">−4</text>
<line x1="53.90" y1="313.36" x2="58.50" y2="313.36" stroke="#000" stroke-width="1.15" />
<text x="51.50" y="316.36" font-size="8.4" text-anchor="end" font-weight="normal" fill="#111" stroke="#111" stroke-width="0.12">−6</text>
<line x1="53.90" y1="334.48" x2="58.50" y2="334.48" stroke="#000" stroke-width="1.15" />
<text x="51.50" y="337.48" font-size="8.4" text-anchor="end" font-weight="normal" fill="#111" stroke="#111" stroke-width="0.12">−8</text>
<line x1="57.95" y1="334.50" x2="217.60" y2="334.50" stroke="#000" stroke-width="1.1" />
<line x1="66.90" y1="334.50" x2="66.90" y2="339.10" stroke="#000" stroke-width="1.25" />
<text transform="translate(70.20,346.30) rotate(-45)" font-size="8.4" text-anchor="end" fill="#111" stroke="#111" stroke-width="0.15">M/WT</text>
<line x1="79.72" y1="334.50" x2="79.72" y2="339.10" stroke="#000" stroke-width="1.25" />
<text transform="translate(83.02,346.30) rotate(-45)" font-size="8.4" text-anchor="end" fill="#111" stroke="#111" stroke-width="0.15">M/TG</text>
<line x1="92.54" y1="334.50" x2="92.54" y2="339.10" stroke="#000" stroke-width="1.25" />
<text transform="translate(95.84,346.30) rotate(-45)" font-size="8.4" text-anchor="end" fill="#111" stroke="#111" stroke-width="0.15">F/WT</text>
<line x1="105.36" y1="334.50" x2="105.36" y2="339.10" stroke="#000" stroke-width="1.25" />
<text transform="translate(108.66,346.30) rotate(-45)" font-size="8.4" text-anchor="end" fill="#111" stroke="#111" stroke-width="0.15">F/TG</text>
<line x1="118.18" y1="334.50" x2="118.18" y2="339.10" stroke="#000" stroke-width="1.25" />
<text transform="translate(121.48,346.30) rotate(-45)" font-size="8.4" text-anchor="end" fill="#111" stroke="#111" stroke-width="0.15">M/WT</text>
<line x1="131.00" y1="334.50" x2="131.00" y2="339.10" stroke="#000" stroke-width="1.25" />
<text transform="translate(134.30,346.30) rotate(-45)" font-size="8.4" text-anchor="end" fill="#111" stroke="#111" stroke-width="0.15">M/TG</text>
<line x1="143.82" y1="334.50" x2="143.82" y2="339.10" stroke="#000" stroke-width="1.25" />
<text transform="translate(147.12,346.30) rotate(-45)" font-size="8.4" text-anchor="end" fill="#111" stroke="#111" stroke-width="0.15">F/WT</text>
<line x1="156.64" y1="334.50" x2="156.64" y2="339.10" stroke="#000" stroke-width="1.25" />
<text transform="translate(159.94,346.30) rotate(-45)" font-size="8.4" text-anchor="end" fill="#111" stroke="#111" stroke-width="0.15">F/TG</text>
<line x1="169.46" y1="334.50" x2="169.46" y2="339.10" stroke="#000" stroke-width="1.25" />
<text transform="translate(172.76,346.30) rotate(-45)" font-size="8.4" text-anchor="end" fill="#111" stroke="#111" stroke-width="0.15">M/WT</text>
<line x1="182.28" y1="334.50" x2="182.28" y2="339.10" stroke="#000" stroke-width="1.25" />
<text transform="translate(185.58,346.30) rotate(-45)" font-size="8.4" text-anchor="end" fill="#111" stroke="#111" stroke-width="0.15">M/TG</text>
<line x1="195.10" y1="334.50" x2="195.10" y2="339.10" stroke="#000" stroke-width="1.25" />
<text transform="translate(198.40,346.30) rotate(-45)" font-size="8.4" text-anchor="end" fill="#111" stroke="#111" stroke-width="0.15">F/WT</text>
<line x1="207.92" y1="334.50" x2="207.92" y2="339.10" stroke="#000" stroke-width="1.25" />
<text transform="translate(211.22,346.30) rotate(-45)" font-size="8.4" text-anchor="end" fill="#111" stroke="#111" stroke-width="0.15">F/TG</text>
<text transform="translate(35.80,282.00) rotate(-90)" font-size="8.8" text-anchor="middle" fill="#111" stroke="#111" stroke-width="0.2" textLength="52.7" lengthAdjust="spacingAndGlyphs">-ΔCt (<tspan font-style="italic">Hprt-Id1</tspan>)</text>
<rect x="66.90" y="274.80" width="4.4" height="4.4" fill="#fff" stroke="#1a1a1a" stroke-width="0.6"/>
<rect x="62.70" y="276.90" width="4.4" height="4.4" fill="#fff" stroke="#1a1a1a" stroke-width="0.6"/>
<rect x="65.30" y="277.40" width="4.4" height="4.4" fill="#fff" stroke="#1a1a1a" stroke-width="0.6"/>
<rect x="67.40" y="278.50" width="4.4" height="4.4" fill="#fff" stroke="#1a1a1a" stroke-width="0.6"/>
<rect x="62.70" y="284.30" width="4.4" height="4.4" fill="#fff" stroke="#1a1a1a" stroke-width="0.6"/>
<rect x="66.90" y="286.40" width="4.4" height="4.4" fill="#fff" stroke="#1a1a1a" stroke-width="0.6"/>
<rect x="62.70" y="288.00" width="4.4" height="4.4" fill="#fff" stroke="#1a1a1a" stroke-width="0.6"/>
<rect x="64.80" y="287.50" width="4.4" height="4.4" fill="#fff" stroke="#1a1a1a" stroke-width="0.6"/>
<line x1="61.80" y1="283.90" x2="72.00" y2="283.90" stroke="#1010ff" stroke-width="1.1" />
<rect x="78.20" y="268.10" width="4.4" height="4.4" fill="#f47272" stroke="#1a1a1a" stroke-width="0.6"/>
<rect x="77.00" y="270.90" width="4.4" height="4.4" fill="#f47272" stroke="#1a1a1a" stroke-width="0.6"/>
<rect x="79.60" y="278.00" width="4.4" height="4.4" fill="#f47272" stroke="#1a1a1a" stroke-width="0.6"/>
<rect x="75.40" y="279.50" width="4.4" height="4.4" fill="#f47272" stroke="#1a1a1a" stroke-width="0.6"/>
<rect x="79.60" y="282.20" width="4.4" height="4.4" fill="#f47272" stroke="#1a1a1a" stroke-width="0.6"/>
<rect x="75.40" y="284.30" width="4.4" height="4.4" fill="#f47272" stroke="#1a1a1a" stroke-width="0.6"/>
<rect x="79.60" y="285.40" width="4.4" height="4.4" fill="#f47272" stroke="#1a1a1a" stroke-width="0.6"/>
<rect x="75.40" y="285.90" width="4.4" height="4.4" fill="#f47272" stroke="#1a1a1a" stroke-width="0.6"/>
<line x1="74.62" y1="282.30" x2="84.82" y2="282.30" stroke="#1010ff" stroke-width="1.1" />
<circle cx="94.80" cy="263.20" r="2.25" fill="#fff" stroke="#1a1a1a" stroke-width="0.6"/>
<circle cx="90.30" cy="264.30" r="2.25" fill="#fff" stroke="#1a1a1a" stroke-width="0.6"/>
<circle cx="94.80" cy="270.60" r="2.25" fill="#fff" stroke="#1a1a1a" stroke-width="0.6"/>
<circle cx="90.30" cy="273.80" r="2.25" fill="#fff" stroke="#1a1a1a" stroke-width="0.6"/>
<circle cx="90.30" cy="278.60" r="2.25" fill="#fff" stroke="#1a1a1a" stroke-width="0.6"/>
<circle cx="94.80" cy="280.20" r="2.25" fill="#fff" stroke="#1a1a1a" stroke-width="0.6"/>
<circle cx="90.30" cy="284.10" r="2.25" fill="#fff" stroke="#1a1a1a" stroke-width="0.6"/>
<line x1="87.44" y1="273.50" x2="97.64" y2="273.50" stroke="#1010ff" stroke-width="1.1" />
<circle cx="105.10" cy="263.20" r="2.25" fill="#f47272" stroke="#1a1a1a" stroke-width="0.6"/>
<circle cx="105.10" cy="267.50" r="2.25" fill="#f47272" stroke="#1a1a1a" stroke-width="0.6"/>
<circle cx="103.00" cy="270.10" r="2.25" fill="#f47272" stroke="#1a1a1a" stroke-width="0.6"/>
<circle cx="107.50" cy="270.10" r="2.25" fill="#f47272" stroke="#1a1a1a" stroke-width="0.6"/>
<circle cx="106.50" cy="277.70" r="2.25" fill="#f47272" stroke="#1a1a1a" stroke-width="0.6"/>
<circle cx="104.00" cy="281.50" r="2.25" fill="#f47272" stroke="#1a1a1a" stroke-width="0.6"/>
<line x1="100.26" y1="272.20" x2="110.46" y2="272.20" stroke="#1010ff" stroke-width="1.1" />
<rect x="118.30" y="270.40" width="4.4" height="4.4" fill="#fff" stroke="#1a1a1a" stroke-width="0.6"/>
<rect x="114.60" y="272.50" width="4.4" height="4.4" fill="#fff" stroke="#1a1a1a" stroke-width="0.6"/>
<rect x="117.70" y="273.00" width="4.4" height="4.4" fill="#fff" stroke="#1a1a1a" stroke-width="0.6"/>
<rect x="113.50" y="275.10" width="4.4" height="4.4" fill="#fff" stroke="#1a1a1a" stroke-width="0.6"/>
<rect x="118.80" y="276.20" width="4.4" height="4.4" fill="#fff" stroke="#1a1a1a" stroke-width="0.6"/>
<rect x="116.10" y="277.20" width="4.4" height="4.4" fill="#fff" stroke="#1a1a1a" stroke-width="0.6"/>
<rect x="118.80" y="281.50" width="4.4" height="4.4" fill="#fff" stroke="#1a1a1a" stroke-width="0.6"/>
<rect x="115.10" y="284.70" width="4.4" height="4.4" fill="#fff" stroke="#1a1a1a" stroke-width="0.6"/>
<rect x="118.30" y="285.70" width="4.4" height="4.4" fill="#fff" stroke="#1a1a1a" stroke-width="0.6"/>
<rect x="114.00" y="290.50" width="4.4" height="4.4" fill="#fff" stroke="#1a1a1a" stroke-width="0.6"/>
<rect x="117.20" y="290.50" width="4.4" height="4.4" fill="#fff" stroke="#1a1a1a" stroke-width="0.6"/>
<rect x="115.10" y="287.80" width="4.4" height="4.4" fill="#fff" stroke="#1a1a1a" stroke-width="0.6"/>
<rect x="118.80" y="283.10" width="4.4" height="4.4" fill="#fff" stroke="#1a1a1a" stroke-width="0.6"/>
<line x1="113.08" y1="282.90" x2="123.28" y2="282.90" stroke="#1010ff" stroke-width="1.1" />
<rect x="128.30" y="265.10" width="4.4" height="4.4" fill="#ff0000" stroke="#1a1a1a" stroke-width="0.6"/>
<rect x="126.20" y="272.80" width="4.4" height="4.4" fill="#ff0000" stroke="#1a1a1a" stroke-width="0.6"/>
<rect x="128.80" y="276.20" width="4.4" height="4.4" fill="#ff0000" stroke="#1a1a1a" stroke-width="0.6"/>
<rect x="126.70" y="278.30" width="4.4" height="4.4" fill="#ff0000" stroke="#1a1a1a" stroke-width="0.6"/>
<rect x="130.40" y="280.40" width="4.4" height="4.4" fill="#ff0000" stroke="#1a1a1a" stroke-width="0.6"/>
<rect x="128.30" y="282.50" width="4.4" height="4.4" fill="#ff0000" stroke="#1a1a1a" stroke-width="0.6"/>
<rect x="128.30" y="290.50" width="4.4" height="4.4" fill="#ff0000" stroke="#1a1a1a" stroke-width="0.6"/>
<rect x="129.90" y="279.40" width="4.4" height="4.4" fill="#ff0000" stroke="#1a1a1a" stroke-width="0.6"/>
<line x1="125.90" y1="280.50" x2="136.10" y2="280.50" stroke="#1010ff" stroke-width="1.1" />
<circle cx="142.70" cy="255.60" r="2.25" fill="#fff" stroke="#1a1a1a" stroke-width="0.6"/>
<circle cx="140.60" cy="260.90" r="2.25" fill="#fff" stroke="#1a1a1a" stroke-width="0.6"/>
<circle cx="145.70" cy="260.40" r="2.25" fill="#fff" stroke="#1a1a1a" stroke-width="0.6"/>
<circle cx="143.20" cy="263.00" r="2.25" fill="#fff" stroke="#1a1a1a" stroke-width="0.6"/>
<circle cx="141.10" cy="268.90" r="2.25" fill="#fff" stroke="#1a1a1a" stroke-width="0.6"/>
<circle cx="145.90" cy="268.90" r="2.25" fill="#fff" stroke="#1a1a1a" stroke-width="0.6"/>
<circle cx="142.70" cy="272.00" r="2.25" fill="#fff" stroke="#1a1a1a" stroke-width="0.6"/>
<circle cx="143.70" cy="272.60" r="2.25" fill="#fff" stroke="#1a1a1a" stroke-width="0.6"/>
<circle cx="142.20" cy="275.20" r="2.25" fill="#fff" stroke="#1a1a1a" stroke-width="0.6"/>
<circle cx="143.70" cy="264.10" r="2.25" fill="#fff" stroke="#1a1a1a" stroke-width="0.6"/>
<line x1="138.72" y1="265.90" x2="148.92" y2="265.90" stroke="#1010ff" stroke-width="1.1" />
<circle cx="155.40" cy="268.70" r="2.25" fill="#ff0000" stroke="#1a1a1a" stroke-width="0.6"/>
<circle cx="158.60" cy="267.80" r="2.25" fill="#ff0000" stroke="#1a1a1a" stroke-width="0.6"/>
<circle cx="153.80" cy="272.60" r="2.25" fill="#ff0000" stroke="#1a1a1a" stroke-width="0.6"/>
<circle cx="157.00" cy="272.90" r="2.25" fill="#ff0000" stroke="#1a1a1a" stroke-width="0.6"/>
<circle cx="159.10" cy="272.60" r="2.25" fill="#ff0000" stroke="#1a1a1a" stroke-width="0.6"/>
<circle cx="155.40" cy="278.40" r="2.25" fill="#ff0000" stroke="#1a1a1a" stroke-width="0.6"/>
<circle cx="157.00" cy="281.80" r="2.25" fill="#ff0000" stroke="#1a1a1a" stroke-width="0.6"/>
<circle cx="155.40" cy="286.00" r="2.25" fill="#ff0000" stroke="#1a1a1a" stroke-width="0.6"/>
<line x1="151.54" y1="275.00" x2="161.74" y2="275.00" stroke="#1010ff" stroke-width="1.1" />
<rect x="166.60" y="265.90" width="4.4" height="4.4" fill="#fff" stroke="#1a1a1a" stroke-width="0.6"/>
<rect x="167.10" y="273.00" width="4.4" height="4.4" fill="#fff" stroke="#1a1a1a" stroke-width="0.6"/>
<rect x="165.60" y="274.50" width="4.4" height="4.4" fill="#fff" stroke="#1a1a1a" stroke-width="0.6"/>
<rect x="167.10" y="276.70" width="4.4" height="4.4" fill="#fff" stroke="#1a1a1a" stroke-width="0.6"/>
<rect x="165.60" y="278.80" width="4.4" height="4.4" fill="#fff" stroke="#1a1a1a" stroke-width="0.6"/>
<rect x="168.70" y="279.80" width="4.4" height="4.4" fill="#fff" stroke="#1a1a1a" stroke-width="0.6"/>
<rect x="165.00" y="282.00" width="4.4" height="4.4" fill="#fff" stroke="#1a1a1a" stroke-width="0.6"/>
<rect x="168.20" y="283.00" width="4.4" height="4.4" fill="#fff" stroke="#1a1a1a" stroke-width="0.6"/>
<rect x="165.60" y="285.10" width="4.4" height="4.4" fill="#fff" stroke="#1a1a1a" stroke-width="0.6"/>
<rect x="168.70" y="286.20" width="4.4" height="4.4" fill="#fff" stroke="#1a1a1a" stroke-width="0.6"/>
<rect x="165.00" y="288.30" width="4.4" height="4.4" fill="#fff" stroke="#1a1a1a" stroke-width="0.6"/>
<rect x="168.20" y="289.40" width="4.4" height="4.4" fill="#fff" stroke="#1a1a1a" stroke-width="0.6"/>
<rect x="166.10" y="291.50" width="4.4" height="4.4" fill="#fff" stroke="#1a1a1a" stroke-width="0.6"/>
<rect x="168.70" y="292.50" width="4.4" height="4.4" fill="#fff" stroke="#1a1a1a" stroke-width="0.6"/>
<rect x="165.00" y="294.70" width="4.4" height="4.4" fill="#fff" stroke="#1a1a1a" stroke-width="0.6"/>
<line x1="164.36" y1="285.50" x2="174.56" y2="285.50" stroke="#1010ff" stroke-width="1.1" />
<rect x="179.60" y="273.00" width="4.4" height="4.4" fill="#a60000" stroke="#1a1a1a" stroke-width="0.6"/>
<rect x="179.60" y="278.80" width="4.4" height="4.4" fill="#a60000" stroke="#1a1a1a" stroke-width="0.6"/>
<rect x="182.00" y="279.30" width="4.4" height="4.4" fill="#a60000" stroke="#1a1a1a" stroke-width="0.6"/>
<rect x="177.70" y="281.40" width="4.4" height="4.4" fill="#a60000" stroke="#1a1a1a" stroke-width="0.6"/>
<rect x="179.30" y="283.00" width="4.4" height="4.4" fill="#a60000" stroke="#1a1a1a" stroke-width="0.6"/>
<rect x="177.20" y="285.10" width="4.4" height="4.4" fill="#a60000" stroke="#1a1a1a" stroke-width="0.6"/>
<rect x="181.40" y="285.70" width="4.4" height="4.4" fill="#a60000" stroke="#1a1a1a" stroke-width="0.6"/>
<rect x="178.30" y="294.70" width="4.4" height="4.4" fill="#a60000" stroke="#1a1a1a" stroke-width="0.6"/>
<rect x="180.90" y="294.10" width="4.4" height="4.4" fill="#a60000" stroke="#1a1a1a" stroke-width="0.6"/>
<line x1="177.18" y1="286.30" x2="187.38" y2="286.30" stroke="#1010ff" stroke-width="1.1" />
<circle cx="194.50" cy="266.00" r="2.25" fill="#fff" stroke="#1a1a1a" stroke-width="0.6"/>
<circle cx="191.60" cy="270.90" r="2.25" fill="#fff" stroke="#1a1a1a" stroke-width="0.6"/>
<circle cx="194.70" cy="272.50" r="2.25" fill="#fff" stroke="#1a1a1a" stroke-width="0.6"/>
<circle cx="196.90" cy="274.10" r="2.25" fill="#fff" stroke="#1a1a1a" stroke-width="0.6"/>
<circle cx="193.20" cy="278.90" r="2.25" fill="#fff" stroke="#1a1a1a" stroke-width="0.6"/>
<circle cx="194.70" cy="282.00" r="2.25" fill="#fff" stroke="#1a1a1a" stroke-width="0.6"/>
<circle cx="195.80" cy="283.60" r="2.25" fill="#fff" stroke="#1a1a1a" stroke-width="0.6"/>
<circle cx="193.20" cy="286.80" r="2.25" fill="#fff" stroke="#1a1a1a" stroke-width="0.6"/>
<line x1="190.00" y1="276.50" x2="200.20" y2="276.50" stroke="#1010ff" stroke-width="1.1" />
<circle cx="206.90" cy="272.00" r="2.25" fill="#a60000" stroke="#1a1a1a" stroke-width="0.6"/>
<circle cx="204.80" cy="276.20" r="2.25" fill="#a60000" stroke="#1a1a1a" stroke-width="0.6"/>
<circle cx="207.40" cy="276.50" r="2.25" fill="#a60000" stroke="#1a1a1a" stroke-width="0.6"/>
<circle cx="209.60" cy="279.40" r="2.25" fill="#a60000" stroke="#1a1a1a" stroke-width="0.6"/>
<circle cx="205.30" cy="282.00" r="2.25" fill="#a60000" stroke="#1a1a1a" stroke-width="0.6"/>
<circle cx="207.40" cy="284.70" r="2.25" fill="#a60000" stroke="#1a1a1a" stroke-width="0.6"/>
<circle cx="209.60" cy="283.90" r="2.25" fill="#a60000" stroke="#1a1a1a" stroke-width="0.6"/>
<circle cx="206.90" cy="290.70" r="2.25" fill="#a60000" stroke="#1a1a1a" stroke-width="0.6"/>
<line x1="202.82" y1="280.80" x2="213.02" y2="280.80" stroke="#1010ff" stroke-width="1.1" />
<path d="M144.6,252.0 V247.6 H158.6 V252.0" fill="none" stroke="#000" stroke-width="0.9"/>
<text x="151.60" y="246.40" font-size="8" text-anchor="middle" font-weight="normal" fill="#000" >*</text>
<text transform="translate(341.00,200.00) scale(0.97,1)" font-size="9.8" text-anchor="middle" font-weight="bold" fill="#111" stroke="#111" stroke-width="0.3">Line L</text>
<text transform="translate(341.00,209.60) scale(1.1,1)" font-size="6.4" text-anchor="middle" font-weight="normal" fill="#ff0a0a" stroke="#ff0a0a" stroke-width="0.18">Gt: P = 0.042</text>
<text transform="translate(341.00,217.20) scale(1.1,1)" font-size="6.4" text-anchor="middle" font-weight="normal" fill="#ff0a0a" stroke="#ff0a0a" stroke-width="0.18">Sex: P = 0.001</text>
<text transform="translate(341.00,224.80) scale(1.1,1)" font-size="6.4" text-anchor="middle" font-weight="normal" fill="#1a1a1a" stroke="#1a1a1a" stroke-width="0.18">Int: P = 0.119</text>
<text transform="translate(392.10,200.00) scale(0.97,1)" font-size="9.8" text-anchor="middle" font-weight="bold" fill="#111" stroke="#111" stroke-width="0.3">Line M</text>
<text transform="translate(392.10,209.60) scale(1.1,1)" font-size="6.4" text-anchor="middle" font-weight="normal" fill="#1a1a1a" stroke="#1a1a1a" stroke-width="0.18">Gt: P = 0.475</text>
<text transform="translate(392.10,217.20) scale(1.1,1)" font-size="6.4" text-anchor="middle" font-weight="normal" fill="#ff0a0a" stroke="#ff0a0a" stroke-width="0.18">Sex: P = 0.004</text>
<text transform="translate(392.10,224.80) scale(1.1,1)" font-size="6.4" text-anchor="middle" font-weight="normal" fill="#1a1a1a" stroke="#1a1a1a" stroke-width="0.18">Int: P = 0.322</text>
<text transform="translate(446.10,200.00) scale(0.97,1)" font-size="9.8" text-anchor="middle" font-weight="bold" fill="#111" stroke="#111" stroke-width="0.3">Line H</text>
<text transform="translate(446.10,209.60) scale(1.1,1)" font-size="6.4" text-anchor="middle" font-weight="normal" fill="#1a1a1a" stroke="#1a1a1a" stroke-width="0.18">Gt: P = 0.917</text>
<text transform="translate(446.10,217.20) scale(1.1,1)" font-size="6.4" text-anchor="middle" font-weight="normal" fill="#ff0a0a" stroke="#ff0a0a" stroke-width="0.18">Sex: P = 0.011</text>
<text transform="translate(446.10,224.80) scale(1.1,1)" font-size="6.4" text-anchor="middle" font-weight="normal" fill="#1a1a1a" stroke="#1a1a1a" stroke-width="0.18">Int: P = 0.359</text>
<text x="278.70" y="201.60" font-size="12" text-anchor="start" font-weight="bold" fill="#000" >D</text>
<line x1="366.90" y1="228.50" x2="366.90" y2="334.50" stroke="#d0d0d0" stroke-width="0.8" stroke-dasharray="2,0.7"/>
<line x1="418.10" y1="228.50" x2="418.10" y2="334.50" stroke="#d0d0d0" stroke-width="0.8" stroke-dasharray="2,0.7"/>
<line x1="313.50" y1="228.30" x2="313.50" y2="335.00" stroke="#000" stroke-width="1.1" />
<line x1="308.90" y1="228.30" x2="313.50" y2="228.30" stroke="#000" stroke-width="1.15" />
<text x="306.50" y="231.30" font-size="8.4" text-anchor="end" font-weight="normal" fill="#111" stroke="#111" stroke-width="0.12">0</text>
<line x1="308.90" y1="245.98" x2="313.50" y2="245.98" stroke="#000" stroke-width="1.15" />
<text x="306.50" y="248.98" font-size="8.4" text-anchor="end" font-weight="normal" fill="#111" stroke="#111" stroke-width="0.12">−2</text>
<line x1="308.90" y1="263.66" x2="313.50" y2="263.66" stroke="#000" stroke-width="1.15" />
<text x="306.50" y="266.66" font-size="8.4" text-anchor="end" font-weight="normal" fill="#111" stroke="#111" stroke-width="0.12">−4</text>
<line x1="308.90" y1="281.34" x2="313.50" y2="281.34" stroke="#000" stroke-width="1.15" />
<text x="306.50" y="284.34" font-size="8.4" text-anchor="end" font-weight="normal" fill="#111" stroke="#111" stroke-width="0.12">−6</text>
<line x1="308.90" y1="299.02" x2="313.50" y2="299.02" stroke="#000" stroke-width="1.15" />
<text x="306.50" y="302.02" font-size="8.4" text-anchor="end" font-weight="normal" fill="#111" stroke="#111" stroke-width="0.12">−8</text>
<line x1="308.90" y1="316.70" x2="313.50" y2="316.70" stroke="#000" stroke-width="1.15" />
<text x="306.50" y="319.70" font-size="8.4" text-anchor="end" font-weight="normal" fill="#111" stroke="#111" stroke-width="0.12">−10</text>
<line x1="308.90" y1="334.38" x2="313.50" y2="334.38" stroke="#000" stroke-width="1.15" />
<text x="306.50" y="337.38" font-size="8.4" text-anchor="end" font-weight="normal" fill="#111" stroke="#111" stroke-width="0.12">−12</text>
<line x1="312.95" y1="334.50" x2="472.50" y2="334.50" stroke="#000" stroke-width="1.1" />
<line x1="322.10" y1="334.50" x2="322.10" y2="339.10" stroke="#000" stroke-width="1.25" />
<text transform="translate(325.40,346.30) rotate(-45)" font-size="8.4" text-anchor="end" fill="#111" stroke="#111" stroke-width="0.15">M/WT</text>
<line x1="334.92" y1="334.50" x2="334.92" y2="339.10" stroke="#000" stroke-width="1.25" />
<text transform="translate(338.22,346.30) rotate(-45)" font-size="8.4" text-anchor="end" fill="#111" stroke="#111" stroke-width="0.15">M/TG</text>
<line x1="347.74" y1="334.50" x2="347.74" y2="339.10" stroke="#000" stroke-width="1.25" />
<text transform="translate(351.04,346.30) rotate(-45)" font-size="8.4" text-anchor="end" fill="#111" stroke="#111" stroke-width="0.15">F/WT</text>
<line x1="360.56" y1="334.50" x2="360.56" y2="339.10" stroke="#000" stroke-width="1.25" />
<text transform="translate(363.86,346.30) rotate(-45)" font-size="8.4" text-anchor="end" fill="#111" stroke="#111" stroke-width="0.15">F/TG</text>
<line x1="373.38" y1="334.50" x2="373.38" y2="339.10" stroke="#000" stroke-width="1.25" />
<text transform="translate(376.68,346.30) rotate(-45)" font-size="8.4" text-anchor="end" fill="#111" stroke="#111" stroke-width="0.15">M/WT</text>
<line x1="386.20" y1="334.50" x2="386.20" y2="339.10" stroke="#000" stroke-width="1.25" />
<text transform="translate(389.50,346.30) rotate(-45)" font-size="8.4" text-anchor="end" fill="#111" stroke="#111" stroke-width="0.15">M/TG</text>
<line x1="399.02" y1="334.50" x2="399.02" y2="339.10" stroke="#000" stroke-width="1.25" />
<text transform="translate(402.32,346.30) rotate(-45)" font-size="8.4" text-anchor="end" fill="#111" stroke="#111" stroke-width="0.15">F/WT</text>
<line x1="411.84" y1="334.50" x2="411.84" y2="339.10" stroke="#000" stroke-width="1.25" />
<text transform="translate(415.14,346.30) rotate(-45)" font-size="8.4" text-anchor="end" fill="#111" stroke="#111" stroke-width="0.15">F/TG</text>
<line x1="424.66" y1="334.50" x2="424.66" y2="339.10" stroke="#000" stroke-width="1.25" />
<text transform="translate(427.96,346.30) rotate(-45)" font-size="8.4" text-anchor="end" fill="#111" stroke="#111" stroke-width="0.15">M/WT</text>
<line x1="437.48" y1="334.50" x2="437.48" y2="339.10" stroke="#000" stroke-width="1.25" />
<text transform="translate(440.78,346.30) rotate(-45)" font-size="8.4" text-anchor="end" fill="#111" stroke="#111" stroke-width="0.15">M/TG</text>
<line x1="450.30" y1="334.50" x2="450.30" y2="339.10" stroke="#000" stroke-width="1.25" />
<text transform="translate(453.60,346.30) rotate(-45)" font-size="8.4" text-anchor="end" fill="#111" stroke="#111" stroke-width="0.15">F/WT</text>
<line x1="463.12" y1="334.50" x2="463.12" y2="339.10" stroke="#000" stroke-width="1.25" />
<text transform="translate(466.42,346.30) rotate(-45)" font-size="8.4" text-anchor="end" fill="#111" stroke="#111" stroke-width="0.15">F/TG</text>
<text transform="translate(286.80,281.20) rotate(-90)" font-size="8.8" text-anchor="middle" fill="#111" stroke="#111" stroke-width="0.2" textLength="61.4" lengthAdjust="spacingAndGlyphs">-ΔCt (<tspan font-style="italic">Hprt-Bmp2</tspan>)</text>
<rect x="319.80" y="272.20" width="4.4" height="4.4" fill="#fff" stroke="#1a1a1a" stroke-width="0.6"/>
<rect x="317.70" y="275.90" width="4.4" height="4.4" fill="#fff" stroke="#1a1a1a" stroke-width="0.6"/>
<rect x="321.90" y="276.40" width="4.4" height="4.4" fill="#fff" stroke="#1a1a1a" stroke-width="0.6"/>
<rect x="317.70" y="280.10" width="4.4" height="4.4" fill="#fff" stroke="#1a1a1a" stroke-width="0.6"/>
<rect x="319.80" y="282.20" width="4.4" height="4.4" fill="#fff" stroke="#1a1a1a" stroke-width="0.6"/>
<rect x="319.80" y="289.70" width="4.4" height="4.4" fill="#fff" stroke="#1a1a1a" stroke-width="0.6"/>
<rect x="319.80" y="298.60" width="4.4" height="4.4" fill="#fff" stroke="#1a1a1a" stroke-width="0.6"/>
<line x1="317.00" y1="285.30" x2="327.20" y2="285.30" stroke="#1010ff" stroke-width="1.1" />
<rect x="332.50" y="263.20" width="4.4" height="4.4" fill="#f47272" stroke="#1a1a1a" stroke-width="0.6"/>
<rect x="332.50" y="275.90" width="4.4" height="4.4" fill="#f47272" stroke="#1a1a1a" stroke-width="0.6"/>
<rect x="335.10" y="276.40" width="4.4" height="4.4" fill="#f47272" stroke="#1a1a1a" stroke-width="0.6"/>
<rect x="330.40" y="280.10" width="4.4" height="4.4" fill="#f47272" stroke="#1a1a1a" stroke-width="0.6"/>
<rect x="334.60" y="281.20" width="4.4" height="4.4" fill="#f47272" stroke="#1a1a1a" stroke-width="0.6"/>
<rect x="330.40" y="285.40" width="4.4" height="4.4" fill="#f47272" stroke="#1a1a1a" stroke-width="0.6"/>
<rect x="334.60" y="288.60" width="4.4" height="4.4" fill="#f47272" stroke="#1a1a1a" stroke-width="0.6"/>
<rect x="330.40" y="292.60" width="4.4" height="4.4" fill="#f47272" stroke="#1a1a1a" stroke-width="0.6"/>
<rect x="333.00" y="284.40" width="4.4" height="4.4" fill="#f47272" stroke="#1a1a1a" stroke-width="0.6"/>
<line x1="329.82" y1="283.40" x2="340.02" y2="283.40" stroke="#1010ff" stroke-width="1.1" />
<circle cx="347.70" cy="266.50" r="2.25" fill="#fff" stroke="#1a1a1a" stroke-width="0.6"/>
<circle cx="347.70" cy="272.30" r="2.25" fill="#fff" stroke="#1a1a1a" stroke-width="0.6"/>
<circle cx="345.80" cy="277.00" r="2.25" fill="#fff" stroke="#1a1a1a" stroke-width="0.6"/>
<circle cx="349.50" cy="277.60" r="2.25" fill="#fff" stroke="#1a1a1a" stroke-width="0.6"/>
<circle cx="347.90" cy="280.20" r="2.25" fill="#fff" stroke="#1a1a1a" stroke-width="0.6"/>
<circle cx="347.90" cy="281.80" r="2.25" fill="#fff" stroke="#1a1a1a" stroke-width="0.6"/>
<circle cx="347.70" cy="287.60" r="2.25" fill="#fff" stroke="#1a1a1a" stroke-width="0.6"/>
<line x1="342.64" y1="277.80" x2="352.84" y2="277.80" stroke="#1010ff" stroke-width="1.1" />
<circle cx="362.70" cy="258.00" r="2.25" fill="#f47272" stroke="#1a1a1a" stroke-width="0.6"/>
<circle cx="360.40" cy="259.00" r="2.25" fill="#f47272" stroke="#1a1a1a" stroke-width="0.6"/>
<circle cx="358.30" cy="262.00" r="2.25" fill="#f47272" stroke="#1a1a1a" stroke-width="0.6"/>
<circle cx="362.70" cy="263.10" r="2.25" fill="#f47272" stroke="#1a1a1a" stroke-width="0.6"/>
<circle cx="360.40" cy="271.70" r="2.25" fill="#f47272" stroke="#1a1a1a" stroke-width="0.6"/>
<circle cx="360.40" cy="280.70" r="2.25" fill="#f47272" stroke="#1a1a1a" stroke-width="0.6"/>
<line x1="355.46" y1="265.90" x2="365.66" y2="265.90" stroke="#1010ff" stroke-width="1.1" />
<rect x="370.20" y="261.60" width="4.4" height="4.4" fill="#fff" stroke="#1a1a1a" stroke-width="0.6"/>
<rect x="368.60" y="263.70" width="4.4" height="4.4" fill="#fff" stroke="#1a1a1a" stroke-width="0.6"/>
<rect x="372.90" y="264.80" width="4.4" height="4.4" fill="#fff" stroke="#1a1a1a" stroke-width="0.6"/>
<rect x="368.60" y="266.40" width="4.4" height="4.4" fill="#fff" stroke="#1a1a1a" stroke-width="0.6"/>
<rect x="371.30" y="268.00" width="4.4" height="4.4" fill="#fff" stroke="#1a1a1a" stroke-width="0.6"/>
<rect x="372.90" y="269.50" width="4.4" height="4.4" fill="#fff" stroke="#1a1a1a" stroke-width="0.6"/>
<rect x="368.60" y="271.70" width="4.4" height="4.4" fill="#fff" stroke="#1a1a1a" stroke-width="0.6"/>
<rect x="372.90" y="272.20" width="4.4" height="4.4" fill="#fff" stroke="#1a1a1a" stroke-width="0.6"/>
<rect x="368.60" y="275.90" width="4.4" height="4.4" fill="#fff" stroke="#1a1a1a" stroke-width="0.6"/>
<rect x="370.70" y="273.80" width="4.4" height="4.4" fill="#fff" stroke="#1a1a1a" stroke-width="0.6"/>
<line x1="368.28" y1="271.40" x2="378.48" y2="271.40" stroke="#1010ff" stroke-width="1.1" />
<rect x="382.90" y="260.20" width="4.4" height="4.4" fill="#ff0000" stroke="#1a1a1a" stroke-width="0.6"/>
<rect x="384.80" y="263.40" width="4.4" height="4.4" fill="#ff0000" stroke="#1a1a1a" stroke-width="0.6"/>
<rect x="380.80" y="270.10" width="4.4" height="4.4" fill="#ff0000" stroke="#1a1a1a" stroke-width="0.6"/>
<rect x="384.00" y="270.60" width="4.4" height="4.4" fill="#ff0000" stroke="#1a1a1a" stroke-width="0.6"/>
<rect x="386.60" y="270.60" width="4.4" height="4.4" fill="#ff0000" stroke="#1a1a1a" stroke-width="0.6"/>
<rect x="384.00" y="272.20" width="4.4" height="4.4" fill="#ff0000" stroke="#1a1a1a" stroke-width="0.6"/>
<rect x="383.80" y="279.60" width="4.4" height="4.4" fill="#ff0000" stroke="#1a1a1a" stroke-width="0.6"/>
<line x1="381.10" y1="271.70" x2="391.30" y2="271.70" stroke="#1010ff" stroke-width="1.1" />
<circle cx="396.70" cy="260.10" r="2.25" fill="#fff" stroke="#1a1a1a" stroke-width="0.6"/>
<circle cx="398.90" cy="261.20" r="2.25" fill="#fff" stroke="#1a1a1a" stroke-width="0.6"/>
<circle cx="401.00" cy="262.20" r="2.25" fill="#fff" stroke="#1a1a1a" stroke-width="0.6"/>
<circle cx="397.80" cy="262.80" r="2.25" fill="#fff" stroke="#1a1a1a" stroke-width="0.6"/>
<circle cx="396.70" cy="270.70" r="2.25" fill="#fff" stroke="#1a1a1a" stroke-width="0.6"/>
<circle cx="401.00" cy="271.20" r="2.25" fill="#fff" stroke="#1a1a1a" stroke-width="0.6"/>
<circle cx="396.70" cy="274.90" r="2.25" fill="#fff" stroke="#1a1a1a" stroke-width="0.6"/>
<circle cx="398.90" cy="270.70" r="2.25" fill="#fff" stroke="#1a1a1a" stroke-width="0.6"/>
<line x1="393.92" y1="266.50" x2="404.12" y2="266.50" stroke="#1010ff" stroke-width="1.1" />
<circle cx="411.60" cy="252.50" r="2.25" fill="#ff0000" stroke="#1a1a1a" stroke-width="0.6"/>
<circle cx="410.70" cy="258.80" r="2.25" fill="#ff0000" stroke="#1a1a1a" stroke-width="0.6"/>
<circle cx="408.90" cy="261.70" r="2.25" fill="#ff0000" stroke="#1a1a1a" stroke-width="0.6"/>
<circle cx="413.70" cy="261.20" r="2.25" fill="#ff0000" stroke="#1a1a1a" stroke-width="0.6"/>
<circle cx="412.10" cy="262.80" r="2.25" fill="#ff0000" stroke="#1a1a1a" stroke-width="0.6"/>
<circle cx="410.50" cy="265.40" r="2.25" fill="#ff0000" stroke="#1a1a1a" stroke-width="0.6"/>
<circle cx="411.60" cy="279.70" r="2.25" fill="#ff0000" stroke="#1a1a1a" stroke-width="0.6"/>
<line x1="406.74" y1="262.50" x2="416.94" y2="262.50" stroke="#1010ff" stroke-width="1.1" />
<rect x="421.60" y="257.40" width="4.4" height="4.4" fill="#fff" stroke="#1a1a1a" stroke-width="0.6"/>
<rect x="423.00" y="258.60" width="4.4" height="4.4" fill="#fff" stroke="#1a1a1a" stroke-width="0.6"/>
<rect x="421.60" y="259.80" width="4.4" height="4.4" fill="#fff" stroke="#1a1a1a" stroke-width="0.6"/>
<rect x="423.00" y="261.00" width="4.4" height="4.4" fill="#fff" stroke="#1a1a1a" stroke-width="0.6"/>
<rect x="421.60" y="262.20" width="4.4" height="4.4" fill="#fff" stroke="#1a1a1a" stroke-width="0.6"/>
<rect x="423.00" y="263.40" width="4.4" height="4.4" fill="#fff" stroke="#1a1a1a" stroke-width="0.6"/>
<rect x="421.60" y="264.60" width="4.4" height="4.4" fill="#fff" stroke="#1a1a1a" stroke-width="0.6"/>
<rect x="423.00" y="265.80" width="4.4" height="4.4" fill="#fff" stroke="#1a1a1a" stroke-width="0.6"/>
<rect x="421.60" y="267.00" width="4.4" height="4.4" fill="#fff" stroke="#1a1a1a" stroke-width="0.6"/>
<rect x="423.00" y="268.20" width="4.4" height="4.4" fill="#fff" stroke="#1a1a1a" stroke-width="0.6"/>
<rect x="421.60" y="269.40" width="4.4" height="4.4" fill="#fff" stroke="#1a1a1a" stroke-width="0.6"/>
<rect x="423.00" y="270.60" width="4.4" height="4.4" fill="#fff" stroke="#1a1a1a" stroke-width="0.6"/>
<rect x="421.60" y="271.80" width="4.4" height="4.4" fill="#fff" stroke="#1a1a1a" stroke-width="0.6"/>
<rect x="423.00" y="273.00" width="4.4" height="4.4" fill="#fff" stroke="#1a1a1a" stroke-width="0.6"/>
<rect x="421.60" y="274.20" width="4.4" height="4.4" fill="#fff" stroke="#1a1a1a" stroke-width="0.6"/>
<rect x="423.00" y="275.40" width="4.4" height="4.4" fill="#fff" stroke="#1a1a1a" stroke-width="0.6"/>
<rect x="421.60" y="276.60" width="4.4" height="4.4" fill="#fff" stroke="#1a1a1a" stroke-width="0.6"/>
<rect x="423.00" y="277.80" width="4.4" height="4.4" fill="#fff" stroke="#1a1a1a" stroke-width="0.6"/>
<line x1="419.56" y1="270.70" x2="429.76" y2="270.70" stroke="#1010ff" stroke-width="1.1" />
<rect x="435.10" y="254.70" width="4.4" height="4.4" fill="#a60000" stroke="#1a1a1a" stroke-width="0.6"/>
<rect x="432.80" y="265.50" width="4.4" height="4.4" fill="#a60000" stroke="#1a1a1a" stroke-width="0.6"/>
<rect x="435.40" y="268.00" width="4.4" height="4.4" fill="#a60000" stroke="#1a1a1a" stroke-width="0.6"/>
<rect x="437.60" y="269.00" width="4.4" height="4.4" fill="#a60000" stroke="#1a1a1a" stroke-width="0.6"/>
<rect x="433.80" y="271.70" width="4.4" height="4.4" fill="#a60000" stroke="#1a1a1a" stroke-width="0.6"/>
<rect x="436.00" y="274.30" width="4.4" height="4.4" fill="#a60000" stroke="#1a1a1a" stroke-width="0.6"/>
<rect x="435.10" y="285.20" width="4.4" height="4.4" fill="#a60000" stroke="#1a1a1a" stroke-width="0.6"/>
<line x1="432.38" y1="272.30" x2="442.58" y2="272.30" stroke="#1010ff" stroke-width="1.1" />
<circle cx="448.70" cy="263.80" r="2.25" fill="#fff" stroke="#1a1a1a" stroke-width="0.6"/>
<circle cx="451.40" cy="263.80" r="2.25" fill="#fff" stroke="#1a1a1a" stroke-width="0.6"/>
<circle cx="449.80" cy="265.90" r="2.25" fill="#fff" stroke="#1a1a1a" stroke-width="0.6"/>
<circle cx="452.40" cy="267.00" r="2.25" fill="#fff" stroke="#1a1a1a" stroke-width="0.6"/>
<circle cx="448.70" cy="268.00" r="2.25" fill="#fff" stroke="#1a1a1a" stroke-width="0.6"/>
<circle cx="451.40" cy="269.60" r="2.25" fill="#fff" stroke="#1a1a1a" stroke-width="0.6"/>
<circle cx="448.20" cy="271.70" r="2.25" fill="#fff" stroke="#1a1a1a" stroke-width="0.6"/>
<circle cx="450.30" cy="268.60" r="2.25" fill="#fff" stroke="#1a1a1a" stroke-width="0.6"/>
<line x1="445.20" y1="267.50" x2="455.40" y2="267.50" stroke="#1010ff" stroke-width="1.1" />
<circle cx="463.60" cy="257.50" r="2.25" fill="#a60000" stroke="#1a1a1a" stroke-width="0.6"/>
<circle cx="460.40" cy="260.10" r="2.25" fill="#a60000" stroke="#1a1a1a" stroke-width="0.6"/>
<circle cx="464.10" cy="262.80" r="2.25" fill="#a60000" stroke="#1a1a1a" stroke-width="0.6"/>
<circle cx="460.90" cy="265.40" r="2.25" fill="#a60000" stroke="#1a1a1a" stroke-width="0.6"/>
<circle cx="465.10" cy="267.50" r="2.25" fill="#a60000" stroke="#1a1a1a" stroke-width="0.6"/>
<circle cx="462.50" cy="268.60" r="2.25" fill="#a60000" stroke="#1a1a1a" stroke-width="0.6"/>
<circle cx="462.00" cy="271.20" r="2.25" fill="#a60000" stroke="#1a1a1a" stroke-width="0.6"/>
<circle cx="465.70" cy="265.90" r="2.25" fill="#a60000" stroke="#1a1a1a" stroke-width="0.6"/>
<line x1="458.02" y1="265.40" x2="468.22" y2="265.40" stroke="#1010ff" stroke-width="1.1" />
<text transform="translate(86.20,386.00) scale(0.97,1)" font-size="9.8" text-anchor="middle" font-weight="bold" fill="#111" stroke="#111" stroke-width="0.3">Line L</text>
<text transform="translate(86.20,395.30) scale(1.1,1)" font-size="6.4" text-anchor="middle" font-weight="normal" fill="#1a1a1a" stroke="#1a1a1a" stroke-width="0.18">Gt: P = 0.795</text>
<text transform="translate(86.20,402.90) scale(1.1,1)" font-size="6.4" text-anchor="middle" font-weight="normal" fill="#ff0a0a" stroke="#ff0a0a" stroke-width="0.18">Sex: P = 0.002</text>
<text transform="translate(86.20,410.50) scale(1.1,1)" font-size="6.4" text-anchor="middle" font-weight="normal" fill="#1a1a1a" stroke="#1a1a1a" stroke-width="0.18">Int: P = 0.576</text>
<text transform="translate(138.00,386.00) scale(0.97,1)" font-size="9.8" text-anchor="middle" font-weight="bold" fill="#111" stroke="#111" stroke-width="0.3">Line M</text>
<text transform="translate(138.00,395.30) scale(1.1,1)" font-size="6.4" text-anchor="middle" font-weight="normal" fill="#1a1a1a" stroke="#1a1a1a" stroke-width="0.18">Gt: P = 0.178</text>
<text transform="translate(138.00,402.90) scale(1.1,1)" font-size="6.4" text-anchor="middle" font-weight="normal" fill="#ff0a0a" stroke="#ff0a0a" stroke-width="0.18">Sex: P = 0.0001</text>
<text transform="translate(138.00,410.50) scale(1.1,1)" font-size="6.4" text-anchor="middle" font-weight="normal" fill="#1a1a1a" stroke="#1a1a1a" stroke-width="0.18">Int: P = 0.268</text>
<text transform="translate(189.70,386.00) scale(0.97,1)" font-size="9.8" text-anchor="middle" font-weight="bold" fill="#111" stroke="#111" stroke-width="0.3">Line H</text>
<text transform="translate(189.70,395.30) scale(1.1,1)" font-size="6.4" text-anchor="middle" font-weight="normal" fill="#1a1a1a" stroke="#1a1a1a" stroke-width="0.18">Gt: P = 0.08</text>
<text transform="translate(189.70,402.90) scale(1.1,1)" font-size="6.4" text-anchor="middle" font-weight="normal" fill="#1a1a1a" stroke="#1a1a1a" stroke-width="0.18">Sex: P = 0.821</text>
<text transform="translate(189.70,410.50) scale(1.1,1)" font-size="6.4" text-anchor="middle" font-weight="normal" fill="#1a1a1a" stroke="#1a1a1a" stroke-width="0.18">Int: P = 0.413</text>
<text x="27.30" y="387.80" font-size="12" text-anchor="start" font-weight="bold" fill="#000" >E</text>
<line x1="112.50" y1="414.50" x2="112.50" y2="520.60" stroke="#d0d0d0" stroke-width="0.8" stroke-dasharray="2,0.7"/>
<line x1="163.10" y1="414.50" x2="163.10" y2="520.60" stroke="#d0d0d0" stroke-width="0.8" stroke-dasharray="2,0.7"/>
<line x1="58.60" y1="414.70" x2="58.60" y2="521.10" stroke="#000" stroke-width="1.1" />
<line x1="54.00" y1="414.70" x2="58.60" y2="414.70" stroke="#000" stroke-width="1.15" />
<text x="51.60" y="417.70" font-size="8.4" text-anchor="end" font-weight="normal" fill="#111" stroke="#111" stroke-width="0.12">−2</text>
<line x1="54.00" y1="432.38" x2="58.60" y2="432.38" stroke="#000" stroke-width="1.15" />
<text x="51.60" y="435.38" font-size="8.4" text-anchor="end" font-weight="normal" fill="#111" stroke="#111" stroke-width="0.12">−3</text>
<line x1="54.00" y1="450.06" x2="58.60" y2="450.06" stroke="#000" stroke-width="1.15" />
<text x="51.60" y="453.06" font-size="8.4" text-anchor="end" font-weight="normal" fill="#111" stroke="#111" stroke-width="0.12">−4</text>
<line x1="54.00" y1="467.74" x2="58.60" y2="467.74" stroke="#000" stroke-width="1.15" />
<text x="51.60" y="470.74" font-size="8.4" text-anchor="end" font-weight="normal" fill="#111" stroke="#111" stroke-width="0.12">−5</text>
<line x1="54.00" y1="485.42" x2="58.60" y2="485.42" stroke="#000" stroke-width="1.15" />
<text x="51.60" y="488.42" font-size="8.4" text-anchor="end" font-weight="normal" fill="#111" stroke="#111" stroke-width="0.12">−6</text>
<line x1="54.00" y1="503.10" x2="58.60" y2="503.10" stroke="#000" stroke-width="1.15" />
<text x="51.60" y="506.10" font-size="8.4" text-anchor="end" font-weight="normal" fill="#111" stroke="#111" stroke-width="0.12">−7</text>
<line x1="54.00" y1="520.78" x2="58.60" y2="520.78" stroke="#000" stroke-width="1.15" />
<text x="51.60" y="523.78" font-size="8.4" text-anchor="end" font-weight="normal" fill="#111" stroke="#111" stroke-width="0.12">−8</text>
<line x1="58.05" y1="520.60" x2="217.60" y2="520.60" stroke="#000" stroke-width="1.1" />
<line x1="67.00" y1="520.60" x2="67.00" y2="525.20" stroke="#000" stroke-width="1.25" />
<text transform="translate(70.30,532.40) rotate(-45)" font-size="8.4" text-anchor="end" fill="#111" stroke="#111" stroke-width="0.15">M/WT</text>
<line x1="79.82" y1="520.60" x2="79.82" y2="525.20" stroke="#000" stroke-width="1.25" />
<text transform="translate(83.12,532.40) rotate(-45)" font-size="8.4" text-anchor="end" fill="#111" stroke="#111" stroke-width="0.15">M/TG</text>
<line x1="92.64" y1="520.60" x2="92.64" y2="525.20" stroke="#000" stroke-width="1.25" />
<text transform="translate(95.94,532.40) rotate(-45)" font-size="8.4" text-anchor="end" fill="#111" stroke="#111" stroke-width="0.15">F/WT</text>
<line x1="105.46" y1="520.60" x2="105.46" y2="525.20" stroke="#000" stroke-width="1.25" />
<text transform="translate(108.76,532.40) rotate(-45)" font-size="8.4" text-anchor="end" fill="#111" stroke="#111" stroke-width="0.15">F/TG</text>
<line x1="118.28" y1="520.60" x2="118.28" y2="525.20" stroke="#000" stroke-width="1.25" />
<text transform="translate(121.58,532.40) rotate(-45)" font-size="8.4" text-anchor="end" fill="#111" stroke="#111" stroke-width="0.15">M/WT</text>
<line x1="131.10" y1="520.60" x2="131.10" y2="525.20" stroke="#000" stroke-width="1.25" />
<text transform="translate(134.40,532.40) rotate(-45)" font-size="8.4" text-anchor="end" fill="#111" stroke="#111" stroke-width="0.15">M/TG</text>
<line x1="143.92" y1="520.60" x2="143.92" y2="525.20" stroke="#000" stroke-width="1.25" />
<text transform="translate(147.22,532.40) rotate(-45)" font-size="8.4" text-anchor="end" fill="#111" stroke="#111" stroke-width="0.15">F/WT</text>
<line x1="156.74" y1="520.60" x2="156.74" y2="525.20" stroke="#000" stroke-width="1.25" />
<text transform="translate(160.04,532.40) rotate(-45)" font-size="8.4" text-anchor="end" fill="#111" stroke="#111" stroke-width="0.15">F/TG</text>
<line x1="169.56" y1="520.60" x2="169.56" y2="525.20" stroke="#000" stroke-width="1.25" />
<text transform="translate(172.86,532.40) rotate(-45)" font-size="8.4" text-anchor="end" fill="#111" stroke="#111" stroke-width="0.15">M/WT</text>
<line x1="182.38" y1="520.60" x2="182.38" y2="525.20" stroke="#000" stroke-width="1.25" />
<text transform="translate(185.68,532.40) rotate(-45)" font-size="8.4" text-anchor="end" fill="#111" stroke="#111" stroke-width="0.15">M/TG</text>
<line x1="195.20" y1="520.60" x2="195.20" y2="525.20" stroke="#000" stroke-width="1.25" />
<text transform="translate(198.50,532.40) rotate(-45)" font-size="8.4" text-anchor="end" fill="#111" stroke="#111" stroke-width="0.15">F/WT</text>
<line x1="208.02" y1="520.60" x2="208.02" y2="525.20" stroke="#000" stroke-width="1.25" />
<text transform="translate(211.32,532.40) rotate(-45)" font-size="8.4" text-anchor="end" fill="#111" stroke="#111" stroke-width="0.15">F/TG</text>
<text transform="translate(35.80,467.20) rotate(-90)" font-size="8.8" text-anchor="middle" fill="#111" stroke="#111" stroke-width="0.2" textLength="61.6" lengthAdjust="spacingAndGlyphs">-ΔCt (<tspan font-style="italic">Hprt-Bmp6</tspan>)</text>
<rect x="63.10" y="460.60" width="4.4" height="4.4" fill="#fff" stroke="#1a1a1a" stroke-width="0.6"/>
<rect x="67.60" y="462.90" width="4.4" height="4.4" fill="#fff" stroke="#1a1a1a" stroke-width="0.6"/>
<rect x="62.60" y="466.30" width="4.4" height="4.4" fill="#fff" stroke="#1a1a1a" stroke-width="0.6"/>
<rect x="65.40" y="465.70" width="4.4" height="4.4" fill="#fff" stroke="#1a1a1a" stroke-width="0.6"/>
<rect x="67.10" y="467.40" width="4.4" height="4.4" fill="#fff" stroke="#1a1a1a" stroke-width="0.6"/>
<rect x="64.80" y="474.70" width="4.4" height="4.4" fill="#fff" stroke="#1a1a1a" stroke-width="0.6"/>
<rect x="65.40" y="482.30" width="4.4" height="4.4" fill="#fff" stroke="#1a1a1a" stroke-width="0.6"/>
<rect x="63.70" y="468.00" width="4.4" height="4.4" fill="#fff" stroke="#1a1a1a" stroke-width="0.6"/>
<line x1="61.90" y1="471.60" x2="72.10" y2="471.60" stroke="#1010ff" stroke-width="1.1" />
<rect x="75.50" y="460.60" width="4.4" height="4.4" fill="#f47272" stroke="#1a1a1a" stroke-width="0.6"/>
<rect x="78.30" y="460.40" width="4.4" height="4.4" fill="#f47272" stroke="#1a1a1a" stroke-width="0.6"/>
<rect x="80.60" y="460.60" width="4.4" height="4.4" fill="#f47272" stroke="#1a1a1a" stroke-width="0.6"/>
<rect x="77.20" y="463.50" width="4.4" height="4.4" fill="#f47272" stroke="#1a1a1a" stroke-width="0.6"/>
<rect x="78.30" y="464.00" width="4.4" height="4.4" fill="#f47272" stroke="#1a1a1a" stroke-width="0.6"/>
<rect x="76.10" y="469.10" width="4.4" height="4.4" fill="#f47272" stroke="#1a1a1a" stroke-width="0.6"/>
<rect x="77.20" y="472.50" width="4.4" height="4.4" fill="#f47272" stroke="#1a1a1a" stroke-width="0.6"/>
<rect x="80.60" y="472.80" width="4.4" height="4.4" fill="#f47272" stroke="#1a1a1a" stroke-width="0.6"/>
<rect x="78.10" y="479.20" width="4.4" height="4.4" fill="#f47272" stroke="#1a1a1a" stroke-width="0.6"/>
<line x1="74.72" y1="470.70" x2="84.92" y2="470.70" stroke="#1010ff" stroke-width="1.1" />
<circle cx="90.70" cy="454.40" r="2.25" fill="#fff" stroke="#1a1a1a" stroke-width="0.6"/>
<circle cx="92.90" cy="453.80" r="2.25" fill="#fff" stroke="#1a1a1a" stroke-width="0.6"/>
<circle cx="95.20" cy="454.40" r="2.25" fill="#fff" stroke="#1a1a1a" stroke-width="0.6"/>
<circle cx="90.70" cy="461.70" r="2.25" fill="#fff" stroke="#1a1a1a" stroke-width="0.6"/>
<circle cx="94.60" cy="461.70" r="2.25" fill="#fff" stroke="#1a1a1a" stroke-width="0.6"/>
<circle cx="92.90" cy="464.50" r="2.25" fill="#fff" stroke="#1a1a1a" stroke-width="0.6"/>
<circle cx="92.90" cy="473.00" r="2.25" fill="#fff" stroke="#1a1a1a" stroke-width="0.6"/>
<line x1="87.54" y1="460.60" x2="97.74" y2="460.60" stroke="#1010ff" stroke-width="1.1" />
<circle cx="105.90" cy="448.20" r="2.25" fill="#f47272" stroke="#1a1a1a" stroke-width="0.6"/>
<circle cx="105.90" cy="460.40" r="2.25" fill="#f47272" stroke="#1a1a1a" stroke-width="0.6"/>
<circle cx="103.10" cy="464.50" r="2.25" fill="#f47272" stroke="#1a1a1a" stroke-width="0.6"/>
<circle cx="105.90" cy="465.70" r="2.25" fill="#f47272" stroke="#1a1a1a" stroke-width="0.6"/>
<circle cx="108.70" cy="465.10" r="2.25" fill="#f47272" stroke="#1a1a1a" stroke-width="0.6"/>
<circle cx="105.90" cy="471.30" r="2.25" fill="#f47272" stroke="#1a1a1a" stroke-width="0.6"/>
<line x1="100.36" y1="462.80" x2="110.56" y2="462.80" stroke="#1010ff" stroke-width="1.1" />
<rect x="114.30" y="475.20" width="4.4" height="4.4" fill="#fff" stroke="#1a1a1a" stroke-width="0.6"/>
<rect x="118.80" y="478.00" width="4.4" height="4.4" fill="#fff" stroke="#1a1a1a" stroke-width="0.6"/>
<rect x="116.00" y="482.50" width="4.4" height="4.4" fill="#fff" stroke="#1a1a1a" stroke-width="0.6"/>
<rect x="114.30" y="483.60" width="4.4" height="4.4" fill="#fff" stroke="#1a1a1a" stroke-width="0.6"/>
<rect x="118.80" y="483.00" width="4.4" height="4.4" fill="#fff" stroke="#1a1a1a" stroke-width="0.6"/>
<rect x="116.00" y="488.10" width="4.4" height="4.4" fill="#fff" stroke="#1a1a1a" stroke-width="0.6"/>
<rect x="116.00" y="494.30" width="4.4" height="4.4" fill="#fff" stroke="#1a1a1a" stroke-width="0.6"/>
<rect x="116.00" y="503.10" width="4.4" height="4.4" fill="#fff" stroke="#1a1a1a" stroke-width="0.6"/>
<line x1="113.18" y1="488.40" x2="123.38" y2="488.40" stroke="#1010ff" stroke-width="1.1" />
<rect x="129.20" y="471.20" width="4.4" height="4.4" fill="#ff0000" stroke="#1a1a1a" stroke-width="0.6"/>
<rect x="129.20" y="479.10" width="4.4" height="4.4" fill="#ff0000" stroke="#1a1a1a" stroke-width="0.6"/>
<rect x="126.90" y="483.00" width="4.4" height="4.4" fill="#ff0000" stroke="#1a1a1a" stroke-width="0.6"/>
<rect x="131.40" y="483.00" width="4.4" height="4.4" fill="#ff0000" stroke="#1a1a1a" stroke-width="0.6"/>
<rect x="126.90" y="489.80" width="4.4" height="4.4" fill="#ff0000" stroke="#1a1a1a" stroke-width="0.6"/>
<rect x="131.40" y="493.80" width="4.4" height="4.4" fill="#ff0000" stroke="#1a1a1a" stroke-width="0.6"/>
<rect x="129.20" y="498.30" width="4.4" height="4.4" fill="#ff0000" stroke="#1a1a1a" stroke-width="0.6"/>
<line x1="126.00" y1="487.80" x2="136.20" y2="487.80" stroke="#1010ff" stroke-width="1.1" />
<circle cx="144.70" cy="468.30" r="2.25" fill="#fff" stroke="#1a1a1a" stroke-width="0.6"/>
<circle cx="143.00" cy="471.10" r="2.25" fill="#fff" stroke="#1a1a1a" stroke-width="0.6"/>
<circle cx="145.30" cy="474.00" r="2.25" fill="#fff" stroke="#1a1a1a" stroke-width="0.6"/>
<circle cx="143.60" cy="476.80" r="2.25" fill="#fff" stroke="#1a1a1a" stroke-width="0.6"/>
<circle cx="145.80" cy="479.60" r="2.25" fill="#fff" stroke="#1a1a1a" stroke-width="0.6"/>
<circle cx="144.70" cy="481.90" r="2.25" fill="#fff" stroke="#1a1a1a" stroke-width="0.6"/>
<circle cx="141.90" cy="484.10" r="2.25" fill="#fff" stroke="#1a1a1a" stroke-width="0.6"/>
<circle cx="145.30" cy="485.80" r="2.25" fill="#fff" stroke="#1a1a1a" stroke-width="0.6"/>
<circle cx="143.60" cy="489.20" r="2.25" fill="#fff" stroke="#1a1a1a" stroke-width="0.6"/>
<line x1="138.82" y1="479.40" x2="149.02" y2="479.40" stroke="#1010ff" stroke-width="1.1" />
<circle cx="156.90" cy="462.10" r="2.25" fill="#ff0000" stroke="#1a1a1a" stroke-width="0.6"/>
<circle cx="154.80" cy="467.80" r="2.25" fill="#ff0000" stroke="#1a1a1a" stroke-width="0.6"/>
<circle cx="157.10" cy="469.70" r="2.25" fill="#ff0000" stroke="#1a1a1a" stroke-width="0.6"/>
<circle cx="158.20" cy="469.50" r="2.25" fill="#ff0000" stroke="#1a1a1a" stroke-width="0.6"/>
<circle cx="155.40" cy="477.40" r="2.25" fill="#ff0000" stroke="#1a1a1a" stroke-width="0.6"/>
<circle cx="157.70" cy="476.80" r="2.25" fill="#ff0000" stroke="#1a1a1a" stroke-width="0.6"/>
<circle cx="159.40" cy="477.40" r="2.25" fill="#ff0000" stroke="#1a1a1a" stroke-width="0.6"/>
<circle cx="156.50" cy="471.10" r="2.25" fill="#ff0000" stroke="#1a1a1a" stroke-width="0.6"/>
<line x1="151.64" y1="472.60" x2="161.84" y2="472.60" stroke="#1010ff" stroke-width="1.1" />
<rect x="166.10" y="467.80" width="4.4" height="4.4" fill="#fff" stroke="#1a1a1a" stroke-width="0.6"/>
<rect x="168.80" y="469.40" width="4.4" height="4.4" fill="#fff" stroke="#1a1a1a" stroke-width="0.6"/>
<rect x="165.50" y="471.00" width="4.4" height="4.4" fill="#fff" stroke="#1a1a1a" stroke-width="0.6"/>
<rect x="169.40" y="472.60" width="4.4" height="4.4" fill="#fff" stroke="#1a1a1a" stroke-width="0.6"/>
<rect x="165.50" y="474.20" width="4.4" height="4.4" fill="#fff" stroke="#1a1a1a" stroke-width="0.6"/>
<rect x="168.80" y="475.80" width="4.4" height="4.4" fill="#fff" stroke="#1a1a1a" stroke-width="0.6"/>
<rect x="166.10" y="477.40" width="4.4" height="4.4" fill="#fff" stroke="#1a1a1a" stroke-width="0.6"/>
<rect x="168.80" y="479.00" width="4.4" height="4.4" fill="#fff" stroke="#1a1a1a" stroke-width="0.6"/>
<rect x="165.50" y="480.60" width="4.4" height="4.4" fill="#fff" stroke="#1a1a1a" stroke-width="0.6"/>
<rect x="169.40" y="482.20" width="4.4" height="4.4" fill="#fff" stroke="#1a1a1a" stroke-width="0.6"/>
<rect x="165.50" y="483.80" width="4.4" height="4.4" fill="#fff" stroke="#1a1a1a" stroke-width="0.6"/>
<rect x="168.80" y="485.40" width="4.4" height="4.4" fill="#fff" stroke="#1a1a1a" stroke-width="0.6"/>
<rect x="166.10" y="487.00" width="4.4" height="4.4" fill="#fff" stroke="#1a1a1a" stroke-width="0.6"/>
<rect x="168.80" y="488.60" width="4.4" height="4.4" fill="#fff" stroke="#1a1a1a" stroke-width="0.6"/>
<rect x="165.50" y="490.20" width="4.4" height="4.4" fill="#fff" stroke="#1a1a1a" stroke-width="0.6"/>
<rect x="169.40" y="491.80" width="4.4" height="4.4" fill="#fff" stroke="#1a1a1a" stroke-width="0.6"/>
<line x1="164.46" y1="481.90" x2="174.66" y2="481.90" stroke="#1010ff" stroke-width="1.1" />
<rect x="180.20" y="461.40" width="4.4" height="4.4" fill="#a60000" stroke="#1a1a1a" stroke-width="0.6"/>
<rect x="179.40" y="468.90" width="4.4" height="4.4" fill="#a60000" stroke="#1a1a1a" stroke-width="0.6"/>
<rect x="177.70" y="470.60" width="4.4" height="4.4" fill="#a60000" stroke="#1a1a1a" stroke-width="0.6"/>
<rect x="182.20" y="471.20" width="4.4" height="4.4" fill="#a60000" stroke="#1a1a1a" stroke-width="0.6"/>
<rect x="179.40" y="473.50" width="4.4" height="4.4" fill="#a60000" stroke="#1a1a1a" stroke-width="0.6"/>
<rect x="182.20" y="474.00" width="4.4" height="4.4" fill="#a60000" stroke="#1a1a1a" stroke-width="0.6"/>
<rect x="180.90" y="477.40" width="4.4" height="4.4" fill="#a60000" stroke="#1a1a1a" stroke-width="0.6"/>
<rect x="180.20" y="485.30" width="4.4" height="4.4" fill="#a60000" stroke="#1a1a1a" stroke-width="0.6"/>
<line x1="177.28" y1="475.70" x2="187.48" y2="475.70" stroke="#1010ff" stroke-width="1.1" />
<circle cx="193.20" cy="468.60" r="2.25" fill="#fff" stroke="#1a1a1a" stroke-width="0.6"/>
<circle cx="196.30" cy="469.20" r="2.25" fill="#fff" stroke="#1a1a1a" stroke-width="0.6"/>
<circle cx="198.00" cy="470.00" r="2.25" fill="#fff" stroke="#1a1a1a" stroke-width="0.6"/>
<circle cx="193.40" cy="475.70" r="2.25" fill="#fff" stroke="#1a1a1a" stroke-width="0.6"/>
<circle cx="195.70" cy="477.90" r="2.25" fill="#fff" stroke="#1a1a1a" stroke-width="0.6"/>
<circle cx="193.40" cy="481.30" r="2.25" fill="#fff" stroke="#1a1a1a" stroke-width="0.6"/>
<circle cx="197.40" cy="484.70" r="2.25" fill="#fff" stroke="#1a1a1a" stroke-width="0.6"/>
<circle cx="195.10" cy="486.90" r="2.25" fill="#fff" stroke="#1a1a1a" stroke-width="0.6"/>
<circle cx="195.50" cy="496.00" r="2.25" fill="#fff" stroke="#1a1a1a" stroke-width="0.6"/>
<line x1="190.10" y1="479.40" x2="200.30" y2="479.40" stroke="#1010ff" stroke-width="1.1" />
<circle cx="207.00" cy="470.00" r="2.25" fill="#a60000" stroke="#1a1a1a" stroke-width="0.6"/>
<circle cx="205.30" cy="472.80" r="2.25" fill="#a60000" stroke="#1a1a1a" stroke-width="0.6"/>
<circle cx="210.40" cy="472.80" r="2.25" fill="#a60000" stroke="#1a1a1a" stroke-width="0.6"/>
<circle cx="208.10" cy="473.40" r="2.25" fill="#a60000" stroke="#1a1a1a" stroke-width="0.6"/>
<circle cx="208.10" cy="478.50" r="2.25" fill="#a60000" stroke="#1a1a1a" stroke-width="0.6"/>
<circle cx="209.20" cy="485.20" r="2.25" fill="#a60000" stroke="#1a1a1a" stroke-width="0.6"/>
<circle cx="207.50" cy="486.90" r="2.25" fill="#a60000" stroke="#1a1a1a" stroke-width="0.6"/>
<line x1="202.92" y1="476.80" x2="213.12" y2="476.80" stroke="#1010ff" stroke-width="1.1" />
<text x="240.00" y="387.90" font-size="12" text-anchor="start" font-weight="bold" fill="#000" >G</text>
<line x1="302.50" y1="413.00" x2="302.50" y2="520.50" stroke="#d0d0d0" stroke-width="0.8" stroke-dasharray="2,0.7"/>
<line x1="266.60" y1="413.00" x2="266.60" y2="521.00" stroke="#000" stroke-width="1.1" />
<line x1="262.40" y1="412.96" x2="266.60" y2="412.96" stroke="#000" stroke-width="1.15" />
<text x="260.60" y="415.96" font-size="8.5" text-anchor="end" font-weight="normal" fill="#111" >8</text>
<line x1="262.40" y1="439.82" x2="266.60" y2="439.82" stroke="#000" stroke-width="1.15" />
<text x="260.60" y="442.82" font-size="8.5" text-anchor="end" font-weight="normal" fill="#111" >6</text>
<line x1="262.40" y1="466.68" x2="266.60" y2="466.68" stroke="#000" stroke-width="1.15" />
<text x="260.60" y="469.68" font-size="8.5" text-anchor="end" font-weight="normal" fill="#111" >4</text>
<line x1="262.40" y1="493.54" x2="266.60" y2="493.54" stroke="#000" stroke-width="1.15" />
<text x="260.60" y="496.54" font-size="8.5" text-anchor="end" font-weight="normal" fill="#111" >2</text>
<line x1="262.40" y1="520.40" x2="266.60" y2="520.40" stroke="#000" stroke-width="1.15" />
<text x="260.60" y="523.40" font-size="8.5" text-anchor="end" font-weight="normal" fill="#111" >0</text>
<line x1="266.05" y1="520.50" x2="338.80" y2="520.50" stroke="#000" stroke-width="1.1" />
<line x1="277.70" y1="520.50" x2="277.70" y2="524.70" stroke="#000" stroke-width="1.25" />
<text transform="translate(280.10,531.50) rotate(-45)" font-size="8" text-anchor="end" fill="#111">WT</text>
<line x1="294.60" y1="520.50" x2="294.60" y2="524.70" stroke="#000" stroke-width="1.25" />
<text transform="translate(297.00,531.50) rotate(-45)" font-size="8" text-anchor="end" fill="#111">TG</text>
<line x1="311.20" y1="520.50" x2="311.20" y2="524.70" stroke="#000" stroke-width="1.25" />
<text transform="translate(313.60,531.50) rotate(-45)" font-size="8" text-anchor="end" fill="#111">FeA</text>
<line x1="327.80" y1="520.50" x2="327.80" y2="524.70" stroke="#000" stroke-width="1.25" />
<text transform="translate(330.20,531.50) rotate(-45)" font-size="8" text-anchor="end" fill="#111">FeO</text>
<text transform="translate(249.30,467.50) rotate(-90)" font-size="9" text-anchor="middle" fill="#111" textLength="57.5" lengthAdjust="spacingAndGlyphs">pSMAD5/SMAD5</text>
<rect x="275.80" y="498.60" width="4.4" height="4.4" fill="#fff" stroke="#1a1a1a" stroke-width="0.6"/>
<rect x="272.20" y="501.10" width="4.4" height="4.4" fill="#fff" stroke="#1a1a1a" stroke-width="0.6"/>
<rect x="279.40" y="502.20" width="4.4" height="4.4" fill="#fff" stroke="#1a1a1a" stroke-width="0.6"/>
<rect x="272.20" y="505.10" width="4.4" height="4.4" fill="#fff" stroke="#1a1a1a" stroke-width="0.6"/>
<rect x="275.80" y="504.40" width="4.4" height="4.4" fill="#fff" stroke="#1a1a1a" stroke-width="0.6"/>
<rect x="279.40" y="508.00" width="4.4" height="4.4" fill="#fff" stroke="#1a1a1a" stroke-width="0.6"/>
<rect x="272.20" y="511.60" width="4.4" height="4.4" fill="#fff" stroke="#1a1a1a" stroke-width="0.6"/>
<rect x="275.80" y="508.00" width="4.4" height="4.4" fill="#fff" stroke="#1a1a1a" stroke-width="0.6"/>
<line x1="272.10" y1="507.60" x2="283.30" y2="507.60" stroke="#1010ff" stroke-width="1.1" />
<rect x="292.40" y="496.50" width="4.4" height="4.4" fill="#a60000" stroke="#1a1a1a" stroke-width="0.6"/>
<rect x="288.80" y="502.20" width="4.4" height="4.4" fill="#a60000" stroke="#1a1a1a" stroke-width="0.6"/>
<rect x="292.40" y="501.50" width="4.4" height="4.4" fill="#a60000" stroke="#1a1a1a" stroke-width="0.6"/>
<rect x="295.70" y="503.40" width="4.4" height="4.4" fill="#a60000" stroke="#1a1a1a" stroke-width="0.6"/>
<rect x="292.40" y="505.80" width="4.4" height="4.4" fill="#a60000" stroke="#1a1a1a" stroke-width="0.6"/>
<rect x="295.70" y="508.70" width="4.4" height="4.4" fill="#a60000" stroke="#1a1a1a" stroke-width="0.6"/>
<rect x="288.80" y="511.20" width="4.4" height="4.4" fill="#a60000" stroke="#1a1a1a" stroke-width="0.6"/>
<line x1="289.00" y1="506.20" x2="300.20" y2="506.20" stroke="#1010ff" stroke-width="1.1" />
<rect x="305.40" y="503.00" width="4.4" height="4.4" fill="#fff" stroke="#1a1a1a" stroke-width="0.6"/>
<rect x="309.00" y="502.20" width="4.4" height="4.4" fill="#fff" stroke="#1a1a1a" stroke-width="0.6"/>
<rect x="312.60" y="503.00" width="4.4" height="4.4" fill="#fff" stroke="#1a1a1a" stroke-width="0.6"/>
<rect x="307.50" y="508.70" width="4.4" height="4.4" fill="#fff" stroke="#1a1a1a" stroke-width="0.6"/>
<rect x="309.00" y="505.10" width="4.4" height="4.4" fill="#fff" stroke="#1a1a1a" stroke-width="0.6"/>
<line x1="305.60" y1="507.30" x2="316.80" y2="507.30" stroke="#1010ff" stroke-width="1.1" />
<rect x="325.30" y="433.30" width="4.4" height="4.4" fill="#555" stroke="#1a1a1a" stroke-width="0.6"/>
<rect x="325.30" y="462.30" width="4.4" height="4.4" fill="#555" stroke="#1a1a1a" stroke-width="0.6"/>
<rect x="325.30" y="472.80" width="4.4" height="4.4" fill="#555" stroke="#1a1a1a" stroke-width="0.6"/>
<rect x="325.30" y="488.20" width="4.4" height="4.4" fill="#555" stroke="#1a1a1a" stroke-width="0.6"/>
<rect x="325.10" y="504.40" width="4.4" height="4.4" fill="#555" stroke="#1a1a1a" stroke-width="0.6"/>
<line x1="322.20" y1="474.30" x2="333.40" y2="474.30" stroke="#1010ff" stroke-width="1.1" />
<path d="M311.4,428.7 V424.5 H328.6 V428.7" fill="none" stroke="#000" stroke-width="0.9"/>
<text x="320.00" y="423.50" font-size="8" text-anchor="middle" font-weight="normal" fill="#000" >*</text>
<text x="367.40" y="387.90" font-size="12" text-anchor="start" font-weight="bold" fill="#000" >H</text>
<line x1="429.50" y1="413.20" x2="429.50" y2="520.50" stroke="#d0d0d0" stroke-width="0.8" stroke-dasharray="2,0.7"/>
<line x1="393.60" y1="413.20" x2="393.60" y2="521.00" stroke="#000" stroke-width="1.1" />
<line x1="389.40" y1="413.19" x2="393.60" y2="413.19" stroke="#000" stroke-width="1.15" />
<text x="387.60" y="416.19" font-size="8.5" text-anchor="end" font-weight="normal" fill="#111" >3</text>
<line x1="389.40" y1="448.96" x2="393.60" y2="448.96" stroke="#000" stroke-width="1.15" />
<text x="387.60" y="451.96" font-size="8.5" text-anchor="end" font-weight="normal" fill="#111" >2</text>
<line x1="389.40" y1="484.73" x2="393.60" y2="484.73" stroke="#000" stroke-width="1.15" />
<text x="387.60" y="487.73" font-size="8.5" text-anchor="end" font-weight="normal" fill="#111" >1</text>
<line x1="389.40" y1="520.50" x2="393.60" y2="520.50" stroke="#000" stroke-width="1.15" />
<text x="387.60" y="523.50" font-size="8.5" text-anchor="end" font-weight="normal" fill="#111" >0</text>
<line x1="393.05" y1="520.50" x2="465.80" y2="520.50" stroke="#000" stroke-width="1.1" />
<line x1="405.00" y1="520.50" x2="405.00" y2="524.70" stroke="#000" stroke-width="1.25" />
<text transform="translate(407.40,531.50) rotate(-45)" font-size="8" text-anchor="end" fill="#111">WT</text>
<line x1="421.50" y1="520.50" x2="421.50" y2="524.70" stroke="#000" stroke-width="1.25" />
<text transform="translate(423.90,531.50) rotate(-45)" font-size="8" text-anchor="end" fill="#111">TG</text>
<line x1="437.80" y1="520.50" x2="437.80" y2="524.70" stroke="#000" stroke-width="1.25" />
<text transform="translate(440.20,531.50) rotate(-45)" font-size="8" text-anchor="end" fill="#111">FeA</text>
<line x1="454.50" y1="520.50" x2="454.50" y2="524.70" stroke="#000" stroke-width="1.25" />
<text transform="translate(456.90,531.50) rotate(-45)" font-size="8" text-anchor="end" fill="#111">FeO</text>
<text transform="translate(375.20,462.90) rotate(-90)" font-size="9" text-anchor="middle" fill="#111" textLength="84.4" lengthAdjust="spacingAndGlyphs">(pSMAD5/SMAD5)/Ferritin</text>
<rect x="402.80" y="459.80" width="4.4" height="4.4" fill="#fff" stroke="#1a1a1a" stroke-width="0.6"/>
<rect x="402.80" y="473.30" width="4.4" height="4.4" fill="#fff" stroke="#1a1a1a" stroke-width="0.6"/>
<rect x="402.80" y="480.30" width="4.4" height="4.4" fill="#fff" stroke="#1a1a1a" stroke-width="0.6"/>
<rect x="399.05" y="487.30" width="4.4" height="4.4" fill="#fff" stroke="#1a1a1a" stroke-width="0.6"/>
<rect x="406.30" y="487.30" width="4.4" height="4.4" fill="#fff" stroke="#1a1a1a" stroke-width="0.6"/>
<rect x="402.80" y="492.80" width="4.4" height="4.4" fill="#fff" stroke="#1a1a1a" stroke-width="0.6"/>
<rect x="402.80" y="497.80" width="4.4" height="4.4" fill="#fff" stroke="#1a1a1a" stroke-width="0.6"/>
<line x1="399.40" y1="485.00" x2="410.60" y2="485.00" stroke="#1010ff" stroke-width="1.1" />
<rect x="419.05" y="484.80" width="4.4" height="4.4" fill="#a60000" stroke="#1a1a1a" stroke-width="0.6"/>
<rect x="419.05" y="491.55" width="4.4" height="4.4" fill="#a60000" stroke="#1a1a1a" stroke-width="0.6"/>
<rect x="419.05" y="497.80" width="4.4" height="4.4" fill="#a60000" stroke="#1a1a1a" stroke-width="0.6"/>
<rect x="419.05" y="504.80" width="4.4" height="4.4" fill="#a60000" stroke="#1a1a1a" stroke-width="0.6"/>
<rect x="415.80" y="512.30" width="4.4" height="4.4" fill="#a60000" stroke="#1a1a1a" stroke-width="0.6"/>
<rect x="422.30" y="512.30" width="4.4" height="4.4" fill="#a60000" stroke="#1a1a1a" stroke-width="0.6"/>
<rect x="419.05" y="509.80" width="4.4" height="4.4" fill="#a60000" stroke="#1a1a1a" stroke-width="0.6"/>
<line x1="415.90" y1="504.50" x2="427.10" y2="504.50" stroke="#1010ff" stroke-width="1.1" />
<rect x="435.80" y="473.30" width="4.4" height="4.4" fill="#fff" stroke="#1a1a1a" stroke-width="0.6"/>
<rect x="432.30" y="483.30" width="4.4" height="4.4" fill="#fff" stroke="#1a1a1a" stroke-width="0.6"/>
<rect x="439.05" y="481.55" width="4.4" height="4.4" fill="#fff" stroke="#1a1a1a" stroke-width="0.6"/>
<rect x="439.05" y="487.30" width="4.4" height="4.4" fill="#fff" stroke="#1a1a1a" stroke-width="0.6"/>
<rect x="432.30" y="490.30" width="4.4" height="4.4" fill="#fff" stroke="#1a1a1a" stroke-width="0.6"/>
<line x1="432.20" y1="485.50" x2="443.40" y2="485.50" stroke="#1010ff" stroke-width="1.1" />
<rect x="449.05" y="430.30" width="4.4" height="4.4" fill="#555" stroke="#1a1a1a" stroke-width="0.6"/>
<rect x="455.80" y="434.80" width="4.4" height="4.4" fill="#555" stroke="#1a1a1a" stroke-width="0.6"/>
<rect x="452.30" y="468.30" width="4.4" height="4.4" fill="#555" stroke="#1a1a1a" stroke-width="0.6"/>
<rect x="452.30" y="481.55" width="4.4" height="4.4" fill="#555" stroke="#1a1a1a" stroke-width="0.6"/>
<rect x="452.30" y="494.80" width="4.4" height="4.4" fill="#555" stroke="#1a1a1a" stroke-width="0.6"/>
<line x1="448.90" y1="464.30" x2="460.10" y2="464.30" stroke="#1010ff" stroke-width="1.1" />
<path d="M405.6,452.4 V448.0 H422.5 V452.4" fill="none" stroke="#000" stroke-width="0.9"/>
<text x="414.05" y="447.00" font-size="8" text-anchor="middle" font-weight="normal" fill="#000" >*</text>
<text x="27.60" y="572.20" font-size="12" text-anchor="start" font-weight="bold" fill="#000" >F</text>
<line x1="55.60" y1="583.10" x2="175.50" y2="583.10" stroke="#000" stroke-width="1.1" />
<text x="115.70" y="579.90" font-size="10.0" text-anchor="middle" font-weight="normal" fill="#111" >WT</text>
<line x1="180.50" y1="583.10" x2="297.00" y2="583.10" stroke="#000" stroke-width="1.1" />
<text x="238.60" y="579.90" font-size="10.0" text-anchor="middle" font-weight="normal" fill="#111" >TG</text>
<line x1="300.80" y1="583.10" x2="380.80" y2="583.10" stroke="#000" stroke-width="1.1" />
<text x="340.50" y="579.90" font-size="10.0" text-anchor="middle" font-weight="normal" fill="#111" >FeA</text>
<line x1="387.80" y1="583.10" x2="468.10" y2="583.10" stroke="#000" stroke-width="1.1" />
<text x="427.80" y="579.90" font-size="10.0" text-anchor="middle" font-weight="normal" fill="#111" >FeO</text>
<rect x="50.5" y="586.10" width="429.2" height="26.80" fill="#fafafa" stroke="#555" stroke-width="1"/>
<rect x="56.08" y="598.20" width="13.84" height="3.60" rx="1.80" fill="rgb(185,185,185)" filter="url(#bl)"/>
<rect x="74.97" y="598.20" width="14.06" height="3.60" rx="1.80" fill="rgb(150,150,150)" filter="url(#bl)"/>
<rect x="93.03" y="598.20" width="13.93" height="3.60" rx="1.80" fill="rgb(170,170,170)" filter="url(#bl)"/>
<rect x="110.63" y="598.20" width="13.75" height="3.60" rx="1.80" fill="rgb(200,200,200)" filter="url(#bl)"/>
<rect x="128.51" y="598.20" width="14.18" height="3.60" rx="1.80" fill="rgb(130,130,130)" filter="url(#bl)"/>
<rect x="145.88" y="598.20" width="14.25" height="3.60" rx="1.80" fill="rgb(120,120,120)" filter="url(#bl)"/>
<rect x="164.00" y="598.20" width="14.00" height="3.60" rx="1.80" fill="rgb(160,160,160)" filter="url(#bl)"/>
<rect x="181.00" y="598.20" width="14.00" height="3.60" rx="1.80" fill="rgb(160,160,160)" filter="url(#bl)"/>
<rect x="197.94" y="598.20" width="14.12" height="3.60" rx="1.80" fill="rgb(140,140,140)" filter="url(#bl)"/>
<rect x="215.06" y="598.20" width="13.87" height="3.60" rx="1.80" fill="rgb(180,180,180)" filter="url(#bl)"/>
<rect x="232.52" y="598.20" width="13.96" height="3.60" rx="1.80" fill="rgb(165,165,165)" filter="url(#bl)"/>
<rect x="249.55" y="598.20" width="13.90" height="3.60" rx="1.80" fill="rgb(175,175,175)" filter="url(#bl)"/>
<rect x="266.03" y="598.20" width="13.93" height="3.60" rx="1.80" fill="rgb(170,170,170)" filter="url(#bl)"/>
<rect x="283.55" y="598.20" width="13.90" height="3.60" rx="1.80" fill="rgb(175,175,175)" filter="url(#bl)"/>
<rect x="300.97" y="598.20" width="14.06" height="3.60" rx="1.80" fill="rgb(150,150,150)" filter="url(#bl)"/>
<rect x="317.94" y="598.20" width="14.12" height="3.60" rx="1.80" fill="rgb(140,140,140)" filter="url(#bl)"/>
<rect x="334.91" y="598.20" width="14.18" height="3.60" rx="1.80" fill="rgb(130,130,130)" filter="url(#bl)"/>
<rect x="352.08" y="598.20" width="13.84" height="3.60" rx="1.80" fill="rgb(185,185,185)" filter="url(#bl)"/>
<rect x="368.89" y="598.20" width="14.22" height="3.60" rx="1.80" fill="rgb(125,125,125)" filter="url(#bl)"/>
<rect x="387.60" y="598.20" width="13.81" height="3.60" rx="1.80" fill="rgb(190,190,190)" filter="url(#bl)"/>
<rect x="403.61" y="598.20" width="14.78" height="3.60" rx="1.80" fill="rgb(35,35,35)" filter="url(#bl)"/>
<rect x="420.81" y="598.20" width="14.37" height="3.60" rx="1.80" fill="rgb(100,100,100)" filter="url(#bl)"/>
<rect x="437.29" y="597.63" width="15.42" height="4.73" rx="2.20" fill="rgb(15,15,15)" filter="url(#bl)"/>
<rect x="454.59" y="598.20" width="14.81" height="3.60" rx="1.80" fill="rgb(30,30,30)" filter="url(#bl)"/>
<text x="51.00" y="602.40" font-size="10.1" text-anchor="end" font-weight="normal" fill="#111" >pSMAD5-</text>
<path d="M479.7,589.90 H482.2" stroke="#333" stroke-width="0.8" fill="none"/>
<text x="482.60" y="592.30" font-size="9.2" text-anchor="start" font-weight="normal" fill="#111" >70 kDa</text>
<rect x="50.5" y="616.50" width="429.2" height="24.90" fill="#fafafa" stroke="#555" stroke-width="1"/>
<rect x="55.59" y="627.95" width="14.81" height="3.30" rx="1.65" fill="rgb(30,30,30)" filter="url(#bl)"/>
<rect x="74.61" y="627.95" width="14.78" height="3.30" rx="1.65" fill="rgb(35,35,35)" filter="url(#bl)"/>
<rect x="92.63" y="627.95" width="14.75" height="3.30" rx="1.65" fill="rgb(40,40,40)" filter="url(#bl)"/>
<rect x="110.13" y="627.95" width="14.75" height="3.30" rx="1.65" fill="rgb(40,40,40)" filter="url(#bl)"/>
<rect x="128.24" y="627.95" width="14.72" height="3.30" rx="1.65" fill="rgb(45,45,45)" filter="url(#bl)"/>
<rect x="145.61" y="627.95" width="14.78" height="3.30" rx="1.65" fill="rgb(35,35,35)" filter="url(#bl)"/>
<rect x="163.59" y="627.95" width="14.81" height="3.30" rx="1.65" fill="rgb(30,30,30)" filter="url(#bl)"/>
<rect x="180.74" y="628.75" width="14.53" height="3.30" rx="1.65" fill="rgb(75,75,75)" filter="url(#bl)"/>
<rect x="197.77" y="628.75" width="14.47" height="3.30" rx="1.65" fill="rgb(85,85,85)" filter="url(#bl)"/>
<rect x="214.57" y="628.72" width="14.87" height="3.35" rx="1.68" fill="rgb(25,25,25)" filter="url(#bl)"/>
<rect x="232.25" y="628.75" width="14.50" height="3.30" rx="1.65" fill="rgb(80,80,80)" filter="url(#bl)"/>
<rect x="249.20" y="628.75" width="14.59" height="3.30" rx="1.65" fill="rgb(65,65,65)" filter="url(#bl)"/>
<rect x="265.63" y="628.75" width="14.75" height="3.30" rx="1.65" fill="rgb(40,40,40)" filter="url(#bl)"/>
<rect x="283.20" y="628.75" width="14.59" height="3.30" rx="1.65" fill="rgb(65,65,65)" filter="url(#bl)"/>
<rect x="300.57" y="628.72" width="14.87" height="3.35" rx="1.68" fill="rgb(25,25,25)" filter="url(#bl)"/>
<rect x="317.61" y="628.75" width="14.78" height="3.30" rx="1.65" fill="rgb(35,35,35)" filter="url(#bl)"/>
<rect x="334.57" y="628.72" width="14.87" height="3.35" rx="1.68" fill="rgb(25,25,25)" filter="url(#bl)"/>
<rect x="351.64" y="628.75" width="14.72" height="3.30" rx="1.65" fill="rgb(45,45,45)" filter="url(#bl)"/>
<rect x="368.43" y="628.45" width="15.14" height="3.89" rx="1.95" fill="rgb(20,20,20)" filter="url(#bl)"/>
<rect x="387.36" y="628.75" width="14.28" height="3.30" rx="1.65" fill="rgb(115,115,115)" filter="url(#bl)"/>
<rect x="403.64" y="628.75" width="14.72" height="3.30" rx="1.65" fill="rgb(45,45,45)" filter="url(#bl)"/>
<rect x="420.59" y="628.75" width="14.81" height="3.30" rx="1.65" fill="rgb(30,30,30)" filter="url(#bl)"/>
<rect x="437.80" y="628.75" width="14.40" height="3.30" rx="1.65" fill="rgb(95,95,95)" filter="url(#bl)"/>
<rect x="454.29" y="628.18" width="15.42" height="4.43" rx="2.20" fill="rgb(15,15,15)" filter="url(#bl)"/>
<text x="51.00" y="630.30" font-size="10.1" text-anchor="end" font-weight="normal" fill="#111" >SMAD5-</text>
<path d="M479.7,619.50 H482.2" stroke="#333" stroke-width="0.8" fill="none"/>
<text x="482.60" y="621.90" font-size="9.2" text-anchor="start" font-weight="normal" fill="#111" >70 kDa</text>
<rect x="50.5" y="645.60" width="429.2" height="25.60" fill="#fafafa" stroke="#555" stroke-width="1"/>
<rect x="56.08" y="655.30" width="13.84" height="3.00" rx="1.50" fill="rgb(185,185,185)" filter="url(#bl)"/>
<rect x="74.99" y="655.30" width="14.03" height="3.00" rx="1.50" fill="rgb(155,155,155)" filter="url(#bl)"/>
<rect x="92.91" y="655.30" width="14.18" height="3.00" rx="1.50" fill="rgb(130,130,130)" filter="url(#bl)"/>
<rect x="110.52" y="655.30" width="13.96" height="3.00" rx="1.50" fill="rgb(165,165,165)" filter="url(#bl)"/>
<rect x="128.60" y="655.30" width="14.00" height="3.00" rx="1.50" fill="rgb(160,160,160)" filter="url(#bl)"/>
<rect x="145.94" y="655.30" width="14.12" height="3.00" rx="1.50" fill="rgb(140,140,140)" filter="url(#bl)"/>
<rect x="164.00" y="655.30" width="14.00" height="3.00" rx="1.50" fill="rgb(160,160,160)" filter="url(#bl)"/>
<rect x="181.02" y="659.20" width="13.97" height="8" fill="#e6e6e6" filter="url(#bl2)"/>
<rect x="180.02" y="655.60" width="15.97" height="5.20" rx="2.20" fill="rgb(5,5,5)" filter="url(#bl)"/>
<rect x="198.15" y="659.20" width="13.70" height="8" fill="#e6e6e6" filter="url(#bl2)"/>
<rect x="197.15" y="655.86" width="15.70" height="4.67" rx="2.20" fill="rgb(10,10,10)" filter="url(#bl)"/>
<rect x="214.67" y="656.70" width="14.65" height="3.00" rx="1.50" fill="rgb(55,55,55)" filter="url(#bl)"/>
<rect x="232.47" y="656.70" width="14.06" height="3.00" rx="1.50" fill="rgb(150,150,150)" filter="url(#bl)"/>
<rect x="249.65" y="659.20" width="13.70" height="8" fill="#e6e6e6" filter="url(#bl2)"/>
<rect x="248.65" y="655.86" width="15.70" height="4.67" rx="2.20" fill="rgb(10,10,10)" filter="url(#bl)"/>
<rect x="265.91" y="656.70" width="14.18" height="3.00" rx="1.50" fill="rgb(130,130,130)" filter="url(#bl)"/>
<rect x="283.44" y="656.70" width="14.12" height="3.00" rx="1.50" fill="rgb(140,140,140)" filter="url(#bl)"/>
<rect x="300.66" y="656.70" width="14.69" height="3.00" rx="1.50" fill="rgb(50,50,50)" filter="url(#bl)"/>
<rect x="317.72" y="656.70" width="14.56" height="3.00" rx="1.50" fill="rgb(70,70,70)" filter="url(#bl)"/>
<rect x="334.77" y="656.70" width="14.47" height="3.00" rx="1.50" fill="rgb(85,85,85)" filter="url(#bl)"/>
<rect x="351.78" y="656.70" width="14.44" height="3.00" rx="1.50" fill="rgb(90,90,90)" filter="url(#bl)"/>
<rect x="368.72" y="656.70" width="14.56" height="3.00" rx="1.50" fill="rgb(70,70,70)" filter="url(#bl)"/>
<rect x="387.09" y="656.70" width="14.81" height="3.00" rx="1.50" fill="rgb(30,30,30)" filter="url(#bl)"/>
<rect x="404.29" y="659.20" width="13.42" height="8" fill="#e6e6e6" filter="url(#bl2)"/>
<rect x="403.29" y="656.13" width="15.42" height="4.13" rx="2.07" fill="rgb(15,15,15)" filter="url(#bl)"/>
<rect x="421.15" y="659.20" width="13.70" height="8" fill="#e6e6e6" filter="url(#bl2)"/>
<rect x="420.15" y="655.86" width="15.70" height="4.67" rx="2.20" fill="rgb(10,10,10)" filter="url(#bl)"/>
<rect x="438.15" y="659.20" width="13.70" height="8" fill="#e6e6e6" filter="url(#bl2)"/>
<rect x="437.15" y="655.86" width="15.70" height="4.67" rx="2.20" fill="rgb(10,10,10)" filter="url(#bl)"/>
<rect x="455.15" y="659.20" width="13.70" height="8" fill="#e6e6e6" filter="url(#bl2)"/>
<rect x="454.15" y="655.86" width="15.70" height="4.67" rx="2.20" fill="rgb(10,10,10)" filter="url(#bl)"/>
<text x="51.00" y="657.40" font-size="10.1" text-anchor="end" font-weight="normal" fill="#111" >Ferritin H-</text>
<path d="M479.7,650.40 H482.2" stroke="#333" stroke-width="0.8" fill="none"/>
<text x="482.60" y="652.80" font-size="9.2" text-anchor="start" font-weight="normal" fill="#111" >25 kDa</text>
<rect x="50.5" y="676.30" width="429.2" height="26.50" fill="#fafafa" stroke="#555" stroke-width="1"/>
<rect x="59.15" y="689.16" width="15.70" height="4.67" rx="2.20" fill="rgb(10,10,10)" filter="url(#bl)"/>
<rect x="77.43" y="689.70" width="15.14" height="3.59" rx="1.80" fill="rgb(20,20,20)" filter="url(#bl)"/>
<rect x="95.07" y="689.97" width="14.87" height="3.05" rx="1.53" fill="rgb(25,25,25)" filter="url(#bl)"/>
<rect x="112.43" y="689.70" width="15.14" height="3.59" rx="1.80" fill="rgb(20,20,20)" filter="url(#bl)"/>
<rect x="129.79" y="689.43" width="15.42" height="4.13" rx="2.07" fill="rgb(15,15,15)" filter="url(#bl)"/>
<rect x="146.29" y="689.43" width="15.42" height="4.13" rx="2.07" fill="rgb(15,15,15)" filter="url(#bl)"/>
<rect x="163.29" y="689.43" width="15.42" height="4.13" rx="2.07" fill="rgb(15,15,15)" filter="url(#bl)"/>
<rect x="180.59" y="690.00" width="14.81" height="3.00" rx="1.50" fill="rgb(30,30,30)" filter="url(#bl)"/>
<rect x="197.59" y="690.00" width="14.81" height="3.00" rx="1.50" fill="rgb(30,30,30)" filter="url(#bl)"/>
<rect x="214.57" y="689.97" width="14.87" height="3.05" rx="1.53" fill="rgb(25,25,25)" filter="url(#bl)"/>
<rect x="232.11" y="690.00" width="14.78" height="3.00" rx="1.50" fill="rgb(35,35,35)" filter="url(#bl)"/>
<rect x="249.09" y="690.00" width="14.81" height="3.00" rx="1.50" fill="rgb(30,30,30)" filter="url(#bl)"/>
<rect x="265.57" y="689.97" width="14.87" height="3.05" rx="1.53" fill="rgb(25,25,25)" filter="url(#bl)"/>
<rect x="283.11" y="690.00" width="14.78" height="3.00" rx="1.50" fill="rgb(35,35,35)" filter="url(#bl)"/>
<rect x="300.59" y="690.00" width="14.81" height="3.00" rx="1.50" fill="rgb(30,30,30)" filter="url(#bl)"/>
<rect x="317.61" y="690.00" width="14.78" height="3.00" rx="1.50" fill="rgb(35,35,35)" filter="url(#bl)"/>
<rect x="334.59" y="690.00" width="14.81" height="3.00" rx="1.50" fill="rgb(30,30,30)" filter="url(#bl)"/>
<rect x="351.61" y="690.00" width="14.78" height="3.00" rx="1.50" fill="rgb(35,35,35)" filter="url(#bl)"/>
<rect x="368.59" y="690.00" width="14.81" height="3.00" rx="1.50" fill="rgb(30,30,30)" filter="url(#bl)"/>
<rect x="387.09" y="690.00" width="14.81" height="3.00" rx="1.50" fill="rgb(30,30,30)" filter="url(#bl)"/>
<rect x="403.61" y="690.00" width="14.78" height="3.00" rx="1.50" fill="rgb(35,35,35)" filter="url(#bl)"/>
<rect x="420.70" y="690.00" width="14.59" height="3.00" rx="1.50" fill="rgb(65,65,65)" filter="url(#bl)"/>
<rect x="437.57" y="689.97" width="14.87" height="3.05" rx="1.53" fill="rgb(25,25,25)" filter="url(#bl)"/>
<rect x="454.83" y="690.00" width="14.34" height="3.00" rx="1.50" fill="rgb(105,105,105)" filter="url(#bl)"/>
<text x="51.00" y="693.60" font-size="10.1" text-anchor="end" font-weight="normal" fill="#111" >β actin-</text>
<path d="M479.7,678.20 H482.2" stroke="#333" stroke-width="0.8" fill="none"/>
<text x="482.60" y="680.60" font-size="9.2" text-anchor="start" font-weight="normal" fill="#111" >50 kDa</text>
<rect x="0.5" y="0.5" width="519" height="709" fill="none" stroke="#000" stroke-width="1.1"/>
</svg></div></body></html>
